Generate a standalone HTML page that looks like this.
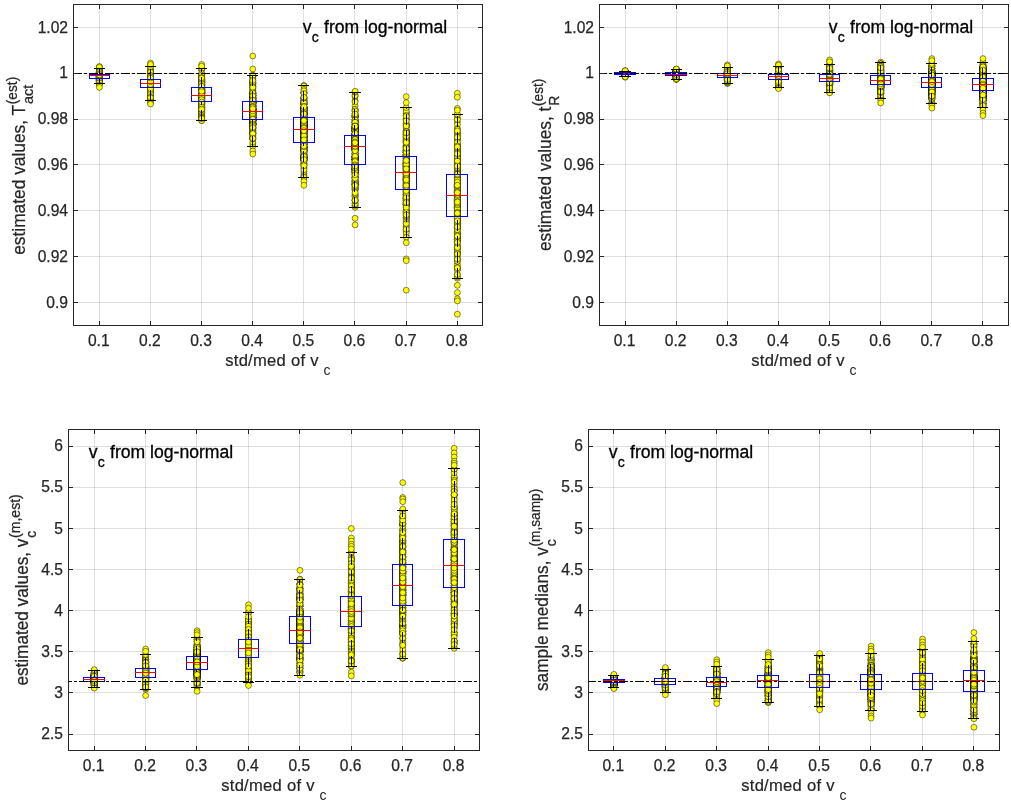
<!DOCTYPE html>
<html><head><meta charset="utf-8"><title>boxplots</title>
<style>html,body{margin:0;padding:0;background:#fff;overflow:hidden}svg{display:block}text{font-family:"Liberation Sans",Arial,Helvetica,sans-serif}.sc{fill:none;stroke:none;marker-start:url(#m);marker-mid:url(#m);marker-end:url(#m)}</style>
</head><body>
<svg width="1011" height="805" viewBox="0 0 1011 805">
<rect width="1011" height="805" fill="#fff"/>
<defs><marker id="m" markerUnits="userSpaceOnUse" markerWidth="8" markerHeight="8" refX="4" refY="4" viewBox="0 0 8 8" overflow="visible"><circle cx="4" cy="4" r="2.95" fill="#ffff00" stroke="#000" stroke-opacity="0.8" stroke-width="0.6"/></marker></defs>
<g id="panel1">
<g stroke="#262626" stroke-opacity="0.15" stroke-width="1" fill="none" shape-rendering="crispEdges"><path d="M99.5 4.5V325.5M150.5 4.5V325.5M201.5 4.5V325.5M252.5 4.5V325.5M303.5 4.5V325.5M354.5 4.5V325.5M406.5 4.5V325.5M457.5 4.5V325.5"/><path d="M73.5 302.5H482.5M73.5 256.5H482.5M73.5 210.5H482.5M73.5 164.5H482.5M73.5 119.5H482.5M73.5 73.5H482.5M73.5 27.5H482.5"/></g>
<polyline class="sc" transform="translate(99.39 0)" points="0,72.3 0,80.2 0,77.3 0,77.0 0,73.5 0,79.4 0,74.9 0,73.9 0,73.0 0,74.8 0,77.4 0,73.9 0,74.3 0,72.6 0,79.1 0,81.8 0,78.0 0,80.0 0,75.1 0,80.5 0,80.1 0,79.1 0,74.8 0,73.0 0,75.9 0,73.9 0,76.4 0,77.5 0,82.3 0,76.4 0,73.5 0,75.0 0,82.1 0,81.2 0,80.8 0,75.2 0,74.0 0,75.9 0,70.3 0,76.3 0,75.3 0,81.1 0,81.8 0,76.1 0,77.6 0,80.5 0,79.7 0,78.8 0,75.3 0,79.6 0,79.0 0,81.8 0,77.7 0,76.0 0,74.3 0,77.7 0,77.6 0,78.3 0,74.3 0,76.1 0,79.6 0,82.2 0,74.3 0,73.8 0,74.4 0,82.0 0,79.2 0,71.6 0,72.1 0,79.2 0,74.7 0,72.3 0,74.5 0,72.7 0,74.4 0,77.1 0,73.6 0,79.1 0,74.8 0,73.3 0,75.5 0,76.0 0,75.0 0,78.2 0,75.1 0,77.9 0,78.2 0,81.4 0,74.1 0,75.3 0,71.1 0,72.9 0,78.1 0,80.4 0,82.2 0,74.6 0,73.0 0,75.7 0,73.3 0,82.0 0,72.2 0,76.2 0,71.3 0,79.5 0,75.2 0,72.6 0,71.8 0,76.8 0,73.0 0,77.9 0,75.8 0,80.1 0,74.4 0,73.5 0,74.3 0,75.8 0,79.2 0,74.9 0,72.9 0,75.0 0,73.7 0,74.5 0,73.8 0,82.1 0,74.6 0,73.7 0,72.5 0,77.6 0,75.1 0,74.9 0,73.0 0,77.7 0,73.0 0,73.6 0,77.1 0,75.1 0,75.0 0,76.7 0,73.9 0,78.4 0,80.3 0,80.2 0,72.4 0,81.4 0,74.9 0,76.8 0,75.1 0,74.7 0,76.6 0,75.4 0,76.6 0,82.6 0,81.3 0,72.2 0,74.6 0,72.2 0,77.3 0,82.7 0,76.9 0,73.8 0,78.7 0,78.3 0,74.8 0,77.0 0,75.2 0,74.2 0,75.2 0,76.6 0,74.3 0,80.1 0,76.6 0,76.8 0,78.2 0,74.3 0,81.1 0,75.2 0,83.4 0,75.2 0,74.3 0,74.0 0,78.5 0,74.4 0,76.4 0,73.3 0,77.2 0,75.3 0,78.1 0,78.7 0,75.5 0,79.0 0,75.2 0,79.8 0,72.1 0,79.8 0,73.5 0,79.5 0,82.6 0,74.6 0,74.5 0,68.4 0,75.1 0,81.2 0,74.5 0,81.3 0,82.1 0,76.4 0,71.4 0,78.9 0,78.9 0,74.4 0,81.9 0,80.3 0,82.7 0,75.0 0,71.1 0,74.6 0,72.7 0,80.9 0,73.4 0,73.3 0,78.5 0,73.5 0,72.7 0,77.7 0,74.1 0,77.1 0,76.2 0,72.9 0,73.9 0,75.1 0,79.7 0,79.5 0,75.9 0,75.9 0,72.4 0,75.1 0,77.8 0,81.9 0,79.1 0,80.8 0,73.6 0,77.9 0,77.8 0,74.9 0,74.9 0,75.8 0,76.9 0,75.3 0,73.9 0,74.7 0,75.0 0,78.2 0,77.1 0,73.2 0,80.1 0,79.2 0,79.3 0,80.0 0,73.3 0,79.4 0,75.0 0,72.7 0,76.0 0,77.2 0,75.1 0,73.7 0,77.7 0,79.9 0,71.7 0,74.6 0,80.6 0,75.2 0,79.9 0,78.3 0,74.7 0,74.3 0,78.8 0,76.4 0,78.4 0,74.1 0,72.9 0,76.7 0,75.0 0,79.4 0,74.4 0,78.6 0,78.4 0,74.8 0,76.8 0,78.1 0,74.0 0,74.8 0,74.6 0,74.0 0,75.3 0,73.9 0,80.4 0,74.6 0,76.4 0,73.7 0,74.3 0,83.2 0,77.1 0,73.0 0,74.8 0,76.4 0,76.8 0,79.9 0,74.1 0,76.9 0,82.5 0,77.9 0,82.2 0,73.8 0,74.7 0,72.2 0,73.9 0,75.3 0,77.9 0,76.4 0,75.2 0,74.8 0,66.5 0,67.2 0,85.0 0,87.4"/>
<polyline class="sc" transform="translate(150.53 0)" points="0,93.5 0,82.7 0,89.0 0,73.0 0,78.9 0,88.2 0,81.2 0,87.5 0,76.6 0,86.3 0,81.5 0,80.8 0,80.2 0,72.3 0,83.4 0,88.0 0,89.8 0,82.6 0,85.3 0,89.0 0,92.2 0,81.8 0,79.1 0,82.0 0,86.6 0,74.9 0,81.1 0,85.6 0,90.9 0,79.5 0,100.4 0,74.5 0,78.2 0,72.9 0,81.1 0,82.5 0,84.6 0,87.4 0,85.7 0,88.3 0,92.9 0,83.2 0,86.1 0,88.1 0,79.4 0,76.9 0,83.3 0,82.4 0,77.3 0,83.9 0,81.2 0,87.3 0,82.8 0,80.1 0,83.3 0,94.3 0,91.6 0,78.2 0,80.3 0,75.8 0,90.3 0,78.2 0,71.9 0,79.3 0,88.6 0,86.4 0,82.9 0,84.3 0,83.5 0,88.5 0,86.9 0,71.7 0,88.3 0,88.6 0,90.0 0,94.9 0,84.9 0,86.7 0,79.4 0,79.3 0,88.9 0,91.9 0,77.2 0,83.6 0,86.0 0,88.7 0,82.4 0,79.4 0,70.8 0,87.1 0,93.0 0,91.3 0,73.8 0,83.2 0,83.1 0,83.2 0,78.8 0,88.7 0,88.9 0,88.0 0,81.8 0,79.2 0,82.5 0,82.5 0,82.7 0,80.0 0,81.8 0,82.7 0,76.9 0,81.9 0,84.0 0,86.1 0,82.1 0,80.4 0,86.6 0,74.5 0,70.9 0,82.7 0,100.4 0,88.2 0,83.5 0,85.4 0,82.8 0,85.0 0,79.4 0,83.5 0,86.5 0,87.3 0,83.2 0,84.9 0,87.9 0,79.6 0,85.3 0,74.1 0,86.5 0,76.1 0,86.2 0,83.2 0,81.3 0,85.4 0,90.7 0,80.3 0,86.4 0,85.6 0,82.5 0,68.7 0,81.2 0,85.3 0,85.9 0,81.3 0,87.5 0,87.3 0,88.1 0,84.7 0,75.0 0,97.9 0,93.0 0,77.3 0,79.3 0,92.2 0,84.9 0,83.7 0,85.2 0,80.3 0,74.2 0,81.9 0,88.0 0,83.0 0,89.1 0,91.7 0,92.7 0,79.2 0,99.4 0,74.5 0,72.6 0,83.1 0,90.5 0,80.1 0,84.7 0,80.7 0,84.4 0,76.1 0,79.7 0,85.6 0,79.5 0,92.6 0,88.0 0,85.9 0,81.5 0,98.5 0,86.6 0,81.0 0,98.9 0,76.2 0,77.2 0,90.9 0,82.9 0,86.6 0,82.2 0,93.6 0,89.3 0,86.2 0,93.9 0,83.4 0,86.2 0,81.2 0,79.6 0,66.3 0,85.3 0,80.9 0,77.4 0,83.8 0,85.2 0,86.1 0,84.6 0,96.8 0,80.3 0,81.0 0,83.3 0,86.3 0,97.0 0,87.2 0,94.7 0,74.1 0,84.5 0,91.5 0,83.6 0,75.6 0,79.5 0,80.0 0,86.2 0,89.3 0,70.7 0,89.0 0,78.6 0,93.5 0,76.6 0,80.9 0,88.8 0,79.2 0,85.0 0,72.3 0,84.1 0,96.3 0,83.6 0,87.2 0,80.6 0,82.0 0,73.0 0,92.5 0,77.8 0,83.0 0,74.2 0,76.2 0,83.4 0,86.7 0,82.6 0,74.2 0,81.0 0,85.2 0,76.5 0,83.1 0,86.9 0,85.5 0,74.9 0,89.6 0,83.9 0,83.0 0,79.5 0,85.2 0,75.3 0,83.4 0,77.7 0,85.6 0,80.5 0,77.0 0,89.7 0,92.8 0,86.0 0,96.5 0,82.8 0,83.3 0,71.6 0,86.4 0,96.2 0,91.6 0,86.2 0,93.8 0,78.7 0,90.3 0,87.9 0,81.1 0,77.1 0,87.8 0,82.1 0,66.8 0,72.2 0,87.5 0,84.3 0,87.9 0,88.3 0,93.7 0,83.6 0,93.2 0,77.3 0,83.8 0,97.3 0,84.6 0,81.2 0,78.4 0,75.3 0,83.5 0,83.5 0,83.2 0,97.8 0,79.8 0,85.5 0,76.7 0,84.6 0,85.3 0,79.2 0,86.1 0,80.1 0,90.6 0,88.8 0,84.4 0,81.7 0,78.0 0,63.0 0,64.5 0,102.5 0,104.0"/>
<polyline class="sc" transform="translate(201.67 0)" points="0,98.4 0,89.2 0,101.1 0,80.7 0,88.4 0,89.3 0,81.5 0,85.7 0,81.4 0,90.3 0,104.8 0,82.4 0,116.5 0,89.5 0,90.6 0,97.9 0,101.5 0,93.3 0,101.5 0,85.2 0,74.3 0,105.3 0,103.8 0,101.0 0,79.4 0,104.9 0,82.7 0,100.8 0,97.2 0,81.9 0,93.0 0,83.0 0,85.3 0,97.5 0,97.2 0,92.6 0,92.9 0,91.4 0,69.4 0,92.4 0,82.1 0,103.3 0,82.4 0,78.4 0,94.9 0,81.6 0,87.2 0,102.2 0,89.4 0,92.1 0,70.2 0,68.4 0,98.0 0,104.5 0,95.1 0,83.0 0,88.2 0,105.9 0,97.4 0,113.9 0,95.6 0,80.9 0,115.3 0,75.8 0,90.2 0,98.6 0,108.7 0,87.5 0,92.5 0,107.3 0,96.0 0,101.2 0,108.0 0,82.9 0,91.7 0,91.4 0,90.3 0,98.0 0,100.2 0,88.6 0,93.9 0,78.9 0,100.0 0,101.4 0,93.2 0,78.5 0,105.4 0,96.3 0,109.4 0,98.3 0,84.6 0,101.8 0,92.7 0,96.0 0,110.8 0,92.2 0,87.7 0,84.4 0,80.2 0,92.3 0,91.4 0,100.8 0,106.2 0,108.3 0,94.8 0,91.2 0,110.0 0,101.6 0,92.1 0,92.8 0,88.8 0,94.9 0,90.5 0,93.2 0,87.4 0,107.1 0,100.1 0,110.2 0,91.9 0,108.5 0,95.0 0,99.6 0,95.0 0,94.3 0,90.6 0,110.0 0,75.3 0,79.0 0,114.7 0,86.3 0,85.6 0,96.4 0,116.8 0,102.2 0,89.9 0,100.5 0,80.5 0,99.7 0,82.5 0,97.0 0,88.8 0,102.2 0,118.5 0,103.9 0,89.2 0,95.7 0,98.7 0,101.3 0,93.2 0,112.6 0,90.0 0,89.5 0,117.9 0,110.7 0,84.1 0,84.5 0,84.5 0,86.2 0,104.8 0,103.8 0,104.4 0,88.4 0,101.7 0,83.1 0,109.7 0,97.6 0,89.2 0,111.4 0,93.0 0,74.8 0,88.4 0,87.7 0,98.6 0,99.0 0,89.2 0,97.1 0,101.7 0,95.5 0,96.6 0,82.8 0,117.0 0,82.9 0,112.2 0,97.1 0,103.4 0,92.6 0,113.3 0,102.4 0,103.3 0,93.5 0,98.4 0,97.3 0,94.5 0,95.4 0,74.7 0,90.7 0,102.3 0,92.5 0,116.4 0,83.0 0,82.1 0,90.0 0,79.3 0,93.2 0,102.1 0,78.3 0,93.5 0,100.0 0,92.9 0,105.2 0,75.6 0,120.5 0,102.0 0,86.7 0,93.5 0,85.2 0,87.8 0,80.6 0,90.3 0,91.6 0,120.6 0,88.1 0,83.5 0,95.6 0,90.6 0,91.2 0,99.0 0,96.0 0,80.0 0,84.4 0,106.8 0,109.9 0,87.9 0,99.8 0,79.5 0,85.4 0,108.1 0,100.5 0,83.9 0,92.9 0,108.2 0,107.4 0,82.3 0,82.4 0,94.7 0,83.0 0,101.9 0,103.0 0,107.3 0,103.9 0,109.4 0,102.4 0,100.9 0,96.7 0,112.5 0,118.3 0,91.8 0,102.1 0,93.4 0,88.3 0,92.3 0,92.1 0,85.4 0,80.6 0,94.3 0,86.2 0,91.7 0,91.8 0,101.2 0,100.3 0,86.0 0,110.5 0,92.6 0,103.0 0,73.5 0,107.6 0,75.2 0,84.5 0,105.7 0,79.0 0,93.0 0,106.6 0,87.6 0,95.2 0,78.1 0,102.2 0,101.4 0,107.5 0,91.5 0,96.2 0,102.3 0,112.4 0,93.5 0,101.4 0,84.0 0,84.4 0,77.5 0,84.7 0,86.3 0,118.4 0,103.3 0,94.7 0,91.6 0,111.4 0,106.5 0,96.5 0,101.1 0,109.7 0,80.5 0,97.0 0,95.3 0,78.1 0,92.3 0,81.2 0,97.1 0,92.8 0,83.4 0,109.3 0,100.7 0,79.4 0,92.6 0,78.0 0,87.9 0,90.7 0,99.8 0,98.5 0,95.5 0,99.6 0,91.2 0,86.2 0,104.0 0,102.1 0,64.5 0,66.2"/>
<polyline class="sc" transform="translate(252.81 0)" points="0,115.7 0,107.4 0,84.9 0,118.1 0,121.5 0,121.9 0,110.0 0,109.2 0,104.1 0,112.0 0,119.5 0,111.2 0,112.1 0,120.2 0,112.3 0,105.8 0,122.5 0,100.8 0,93.0 0,76.2 0,127.2 0,126.3 0,113.7 0,109.4 0,132.3 0,76.1 0,130.0 0,100.7 0,112.3 0,111.1 0,111.9 0,92.7 0,133.3 0,102.6 0,112.4 0,102.3 0,93.0 0,96.5 0,123.9 0,102.1 0,110.3 0,117.3 0,112.3 0,127.1 0,137.6 0,102.9 0,120.5 0,112.0 0,104.0 0,117.1 0,97.9 0,115.9 0,119.5 0,125.2 0,118.3 0,100.7 0,102.4 0,110.9 0,95.1 0,119.3 0,99.9 0,76.5 0,133.4 0,83.2 0,124.6 0,124.7 0,86.7 0,103.5 0,120.8 0,78.4 0,123.5 0,121.2 0,99.0 0,116.7 0,105.4 0,122.6 0,126.9 0,109.2 0,127.7 0,88.0 0,111.5 0,116.7 0,109.6 0,130.6 0,132.7 0,124.3 0,96.1 0,86.2 0,114.8 0,93.9 0,84.6 0,108.3 0,111.0 0,116.7 0,103.5 0,109.9 0,96.0 0,104.6 0,122.9 0,98.5 0,102.9 0,106.2 0,122.2 0,119.8 0,123.7 0,113.7 0,95.1 0,128.3 0,111.3 0,132.2 0,94.3 0,113.7 0,97.9 0,115.6 0,123.2 0,111.5 0,104.7 0,112.1 0,114.3 0,117.9 0,90.1 0,118.7 0,108.4 0,114.7 0,124.8 0,130.8 0,119.5 0,113.8 0,117.6 0,104.0 0,125.0 0,117.4 0,117.2 0,136.5 0,110.9 0,83.9 0,79.9 0,124.9 0,105.9 0,102.9 0,108.7 0,86.3 0,115.0 0,118.6 0,76.0 0,102.2 0,101.8 0,113.7 0,107.6 0,139.2 0,88.4 0,117.4 0,115.9 0,95.9 0,125.9 0,110.5 0,98.8 0,117.9 0,120.5 0,102.0 0,120.7 0,90.1 0,146.3 0,103.1 0,97.6 0,75.1 0,83.0 0,115.4 0,144.0 0,101.7 0,128.5 0,131.4 0,101.7 0,106.6 0,123.2 0,95.5 0,118.0 0,124.8 0,99.0 0,117.5 0,119.8 0,106.3 0,82.3 0,120.3 0,106.5 0,113.2 0,82.9 0,109.0 0,110.7 0,102.4 0,134.0 0,96.1 0,105.8 0,109.9 0,113.7 0,115.1 0,117.2 0,124.4 0,100.1 0,116.6 0,95.9 0,117.6 0,118.9 0,119.1 0,105.4 0,81.0 0,110.5 0,110.3 0,112.0 0,120.2 0,131.8 0,92.8 0,133.5 0,120.7 0,105.6 0,109.5 0,113.3 0,111.0 0,100.6 0,80.1 0,93.7 0,120.3 0,128.2 0,120.3 0,98.4 0,101.5 0,119.4 0,113.0 0,93.9 0,104.0 0,120.1 0,109.4 0,112.7 0,95.4 0,119.7 0,138.2 0,124.3 0,134.0 0,127.6 0,109.7 0,102.2 0,106.5 0,123.1 0,112.8 0,107.1 0,107.8 0,99.4 0,108.7 0,91.7 0,125.3 0,93.7 0,102.4 0,135.3 0,109.3 0,99.0 0,99.2 0,120.6 0,123.0 0,119.3 0,116.5 0,114.6 0,142.1 0,135.0 0,97.7 0,93.4 0,108.5 0,119.3 0,97.4 0,108.3 0,75.8 0,118.6 0,138.9 0,116.4 0,95.2 0,102.2 0,113.2 0,114.3 0,113.9 0,111.8 0,124.0 0,124.5 0,82.3 0,111.9 0,115.9 0,115.2 0,113.1 0,124.4 0,123.1 0,103.0 0,109.6 0,123.2 0,100.0 0,103.1 0,101.2 0,128.8 0,114.7 0,103.2 0,106.4 0,108.8 0,87.5 0,93.0 0,113.3 0,138.7 0,120.8 0,133.6 0,116.2 0,114.7 0,98.3 0,117.7 0,98.8 0,93.0 0,108.4 0,119.8 0,109.8 0,138.4 0,98.2 0,124.5 0,80.5 0,116.2 0,125.1 0,102.9 0,127.5 0,106.4 0,107.2 0,111.3 0,120.5 0,111.1 0,113.6 0,95.8 0,118.7 0,115.4 0,113.5 0,111.0 0,119.2 0,100.3 0,108.8 0,56.0 0,69.0 0,151.0 0,154.0"/>
<polyline class="sc" transform="translate(303.95 0)" points="0,100.7 0,133.2 0,136.2 0,157.1 0,147.9 0,156.4 0,113.2 0,130.9 0,173.6 0,127.2 0,140.3 0,125.1 0,141.5 0,119.9 0,159.7 0,133.1 0,157.9 0,134.2 0,111.2 0,122.5 0,140.5 0,163.7 0,109.9 0,163.8 0,108.4 0,113.0 0,130.8 0,85.4 0,112.2 0,125.1 0,120.2 0,144.3 0,157.0 0,128.1 0,115.4 0,140.1 0,113.1 0,116.2 0,143.3 0,108.4 0,119.2 0,125.6 0,142.4 0,101.9 0,125.3 0,142.2 0,147.7 0,121.6 0,102.9 0,144.4 0,132.4 0,108.0 0,116.7 0,127.7 0,144.4 0,130.0 0,129.2 0,86.1 0,114.3 0,138.2 0,100.2 0,131.2 0,140.9 0,152.6 0,129.6 0,147.2 0,93.1 0,122.3 0,132.8 0,117.1 0,143.3 0,149.9 0,155.0 0,143.8 0,97.9 0,120.1 0,150.1 0,124.2 0,103.6 0,126.2 0,127.7 0,156.9 0,116.7 0,140.2 0,119.3 0,154.2 0,141.1 0,145.3 0,150.9 0,126.0 0,112.9 0,118.8 0,102.2 0,108.4 0,102.2 0,136.8 0,114.6 0,130.4 0,165.9 0,120.5 0,149.2 0,121.7 0,125.4 0,152.1 0,123.4 0,140.6 0,160.5 0,137.3 0,139.9 0,153.6 0,151.1 0,113.3 0,139.2 0,89.3 0,151.6 0,107.6 0,133.1 0,157.8 0,130.9 0,130.9 0,107.1 0,110.7 0,146.5 0,108.9 0,103.8 0,124.6 0,137.4 0,157.1 0,132.8 0,119.8 0,119.8 0,124.5 0,108.2 0,162.8 0,150.4 0,121.7 0,148.2 0,104.1 0,109.8 0,114.9 0,136.7 0,134.9 0,126.4 0,125.5 0,110.6 0,116.3 0,142.5 0,133.3 0,139.9 0,126.7 0,130.9 0,122.3 0,124.1 0,116.3 0,111.6 0,119.1 0,98.8 0,113.2 0,122.1 0,127.2 0,108.2 0,123.4 0,121.7 0,147.2 0,103.9 0,137.1 0,117.7 0,126.3 0,134.9 0,92.5 0,117.3 0,123.9 0,122.6 0,123.7 0,129.9 0,154.4 0,148.9 0,141.8 0,176.8 0,160.5 0,146.8 0,129.5 0,114.4 0,121.6 0,167.6 0,96.4 0,120.9 0,129.6 0,119.6 0,159.2 0,113.1 0,135.0 0,160.0 0,127.3 0,92.9 0,137.5 0,140.6 0,126.6 0,108.0 0,125.2 0,117.2 0,109.6 0,126.9 0,125.0 0,175.4 0,110.6 0,144.8 0,136.2 0,168.8 0,148.5 0,127.2 0,128.4 0,144.0 0,136.5 0,177.4 0,121.6 0,158.9 0,157.5 0,111.4 0,114.6 0,114.6 0,121.4 0,106.9 0,128.7 0,158.9 0,121.8 0,164.5 0,155.9 0,146.8 0,98.9 0,100.7 0,156.0 0,118.1 0,123.6 0,114.2 0,110.3 0,104.2 0,117.8 0,127.3 0,106.6 0,171.5 0,135.8 0,118.0 0,133.9 0,113.2 0,150.0 0,148.6 0,125.5 0,137.8 0,109.8 0,138.3 0,135.4 0,100.5 0,124.3 0,133.8 0,131.3 0,122.1 0,119.9 0,155.3 0,104.2 0,126.0 0,141.9 0,150.6 0,92.3 0,143.2 0,158.3 0,112.2 0,150.2 0,129.5 0,140.0 0,90.8 0,147.6 0,118.0 0,104.4 0,126.5 0,147.3 0,136.5 0,124.1 0,133.0 0,155.3 0,152.2 0,115.3 0,169.7 0,156.5 0,150.4 0,136.1 0,123.9 0,98.0 0,129.3 0,125.6 0,130.3 0,117.7 0,132.5 0,158.1 0,128.7 0,124.7 0,126.2 0,112.3 0,109.7 0,123.3 0,124.9 0,132.2 0,107.3 0,122.3 0,93.5 0,102.4 0,138.6 0,135.2 0,131.0 0,146.7 0,145.2 0,144.1 0,127.5 0,123.7 0,159.6 0,106.3 0,125.5 0,159.6 0,117.0 0,120.6 0,109.1 0,97.9 0,161.5 0,138.3 0,135.8 0,113.6 0,129.1 0,156.5 0,146.0 0,130.1 0,113.9 0,159.6 0,127.9 0,139.9 0,97.3 0,127.6 0,177.3 0,128.1 0,165.7 0,106.8 0,130.7 0,181.5 0,185.3"/>
<polyline class="sc" transform="translate(355.09 0)" points="0,116.2 0,134.8 0,159.5 0,159.0 0,145.2 0,116.9 0,145.5 0,157.3 0,177.1 0,168.9 0,148.6 0,137.9 0,105.9 0,146.6 0,130.3 0,143.6 0,130.0 0,177.6 0,170.5 0,150.8 0,159.1 0,127.6 0,136.4 0,142.3 0,150.2 0,130.9 0,135.2 0,196.7 0,172.0 0,134.2 0,146.0 0,164.3 0,143.5 0,165.0 0,135.7 0,179.0 0,159.4 0,151.7 0,195.6 0,165.6 0,184.6 0,164.4 0,169.7 0,165.3 0,148.6 0,128.5 0,165.8 0,161.9 0,194.8 0,137.7 0,176.7 0,130.4 0,162.7 0,133.1 0,140.4 0,164.9 0,132.8 0,140.7 0,131.1 0,156.1 0,177.6 0,120.5 0,94.8 0,136.2 0,145.7 0,139.6 0,141.6 0,150.0 0,127.8 0,138.4 0,142.9 0,157.1 0,134.6 0,146.2 0,137.9 0,110.8 0,128.5 0,141.5 0,158.9 0,156.2 0,131.3 0,188.4 0,141.1 0,149.2 0,196.7 0,136.6 0,115.2 0,193.8 0,205.6 0,148.0 0,135.0 0,133.8 0,147.7 0,157.9 0,96.7 0,148.4 0,127.6 0,133.4 0,158.6 0,143.3 0,116.5 0,126.7 0,146.2 0,137.4 0,157.6 0,128.7 0,135.6 0,135.8 0,121.1 0,126.7 0,128.0 0,100.8 0,128.6 0,165.1 0,145.1 0,140.9 0,143.0 0,135.8 0,160.0 0,166.0 0,200.2 0,163.4 0,145.6 0,131.0 0,144.8 0,115.5 0,140.8 0,157.2 0,200.3 0,117.4 0,137.2 0,184.3 0,144.4 0,169.8 0,144.2 0,170.0 0,168.5 0,128.6 0,166.2 0,145.2 0,149.1 0,162.9 0,187.4 0,137.8 0,133.8 0,167.7 0,182.1 0,159.6 0,183.3 0,109.5 0,182.2 0,145.7 0,172.0 0,167.0 0,121.7 0,167.1 0,115.8 0,129.6 0,135.4 0,148.3 0,122.5 0,134.5 0,156.7 0,141.5 0,168.4 0,149.9 0,154.0 0,185.3 0,183.5 0,174.2 0,138.0 0,109.3 0,156.5 0,123.8 0,147.8 0,139.4 0,147.8 0,146.2 0,153.9 0,172.7 0,147.9 0,125.7 0,138.6 0,117.5 0,122.0 0,138.2 0,95.6 0,147.8 0,190.6 0,136.8 0,189.4 0,167.5 0,148.6 0,114.0 0,175.5 0,127.9 0,165.1 0,168.9 0,157.2 0,180.1 0,141.9 0,165.5 0,165.6 0,129.5 0,147.8 0,124.4 0,177.7 0,130.5 0,136.7 0,152.9 0,203.2 0,172.6 0,165.3 0,168.5 0,199.0 0,130.7 0,138.0 0,145.9 0,141.6 0,189.8 0,145.8 0,136.1 0,129.8 0,137.2 0,159.5 0,165.6 0,180.7 0,168.6 0,113.3 0,124.5 0,129.0 0,207.3 0,153.8 0,156.8 0,136.4 0,181.6 0,134.7 0,139.1 0,170.2 0,170.7 0,122.8 0,138.9 0,144.8 0,187.0 0,154.4 0,171.8 0,205.6 0,146.2 0,169.5 0,188.5 0,164.6 0,160.1 0,124.6 0,203.8 0,181.5 0,173.2 0,158.8 0,146.9 0,144.4 0,155.8 0,174.5 0,201.1 0,131.8 0,148.6 0,149.4 0,149.9 0,149.3 0,119.8 0,153.6 0,146.5 0,126.7 0,186.8 0,169.2 0,128.6 0,131.8 0,139.0 0,169.5 0,111.2 0,130.2 0,184.1 0,92.2 0,150.6 0,101.9 0,184.7 0,180.6 0,166.7 0,115.6 0,127.0 0,143.9 0,159.6 0,161.2 0,126.7 0,135.2 0,164.5 0,172.5 0,139.3 0,119.7 0,142.5 0,144.2 0,145.6 0,136.4 0,146.3 0,147.6 0,141.1 0,182.8 0,156.3 0,160.6 0,140.4 0,150.8 0,178.3 0,119.9 0,122.2 0,122.3 0,139.9 0,142.9 0,171.7 0,133.7 0,146.4 0,164.2 0,143.0 0,192.6 0,168.5 0,171.6 0,137.2 0,184.6 0,111.0 0,161.6 0,164.8 0,167.8 0,125.9 0,146.2 0,141.4 0,200.3 0,139.8 0,126.8 0,133.6 0,185.4 0,126.7 0,139.1 0,133.4 0,126.1 0,142.9 0,114.0 0,139.6 0,141.9 0,142.8 0,166.0 0,174.7 0,91.3 0,218.3 0,224.9"/>
<polyline class="sc" transform="translate(406.23 0)" points="0,187.6 0,227.0 0,181.1 0,113.6 0,132.9 0,146.6 0,170.2 0,221.3 0,201.0 0,205.0 0,108.4 0,193.0 0,180.2 0,195.0 0,202.6 0,204.8 0,180.5 0,211.2 0,160.8 0,198.6 0,185.9 0,203.6 0,164.5 0,173.2 0,215.7 0,149.7 0,165.3 0,179.0 0,209.7 0,185.2 0,210.0 0,213.5 0,178.7 0,155.9 0,197.9 0,198.7 0,202.2 0,158.2 0,141.8 0,112.3 0,180.0 0,189.3 0,124.5 0,180.3 0,167.1 0,182.2 0,217.9 0,212.2 0,151.2 0,165.8 0,191.7 0,179.5 0,177.0 0,194.4 0,166.0 0,156.0 0,168.0 0,183.3 0,154.7 0,147.8 0,168.5 0,200.5 0,151.3 0,172.4 0,140.6 0,142.8 0,189.7 0,174.0 0,169.9 0,187.2 0,187.5 0,126.9 0,203.1 0,143.0 0,133.9 0,155.9 0,190.0 0,165.0 0,133.2 0,174.7 0,156.0 0,220.9 0,205.0 0,164.4 0,163.6 0,161.4 0,203.1 0,179.5 0,162.6 0,204.9 0,200.2 0,125.4 0,142.9 0,177.7 0,156.9 0,166.6 0,203.5 0,226.9 0,186.3 0,218.9 0,155.4 0,131.1 0,115.6 0,184.4 0,194.0 0,145.5 0,138.1 0,157.2 0,170.3 0,231.5 0,169.2 0,213.9 0,150.9 0,189.3 0,172.2 0,184.0 0,185.9 0,183.8 0,176.4 0,191.3 0,162.1 0,196.6 0,204.6 0,156.0 0,168.8 0,130.0 0,186.9 0,194.6 0,168.6 0,163.0 0,164.6 0,130.4 0,135.4 0,181.7 0,137.3 0,162.5 0,111.1 0,125.9 0,197.9 0,235.6 0,154.3 0,178.3 0,181.2 0,204.3 0,177.9 0,180.1 0,230.5 0,157.7 0,190.9 0,196.0 0,163.3 0,213.1 0,225.6 0,152.8 0,233.0 0,158.5 0,157.4 0,170.6 0,200.6 0,185.1 0,163.5 0,152.5 0,204.9 0,132.8 0,173.0 0,169.8 0,207.6 0,137.5 0,190.2 0,141.8 0,155.4 0,118.4 0,174.2 0,178.3 0,175.6 0,171.3 0,163.3 0,166.9 0,159.4 0,167.0 0,134.5 0,159.7 0,138.9 0,150.8 0,154.7 0,186.0 0,136.5 0,139.4 0,152.9 0,119.3 0,152.9 0,179.7 0,167.0 0,195.9 0,145.7 0,134.7 0,217.5 0,194.8 0,123.3 0,191.5 0,162.7 0,146.7 0,131.2 0,193.8 0,169.8 0,164.7 0,131.1 0,194.2 0,200.9 0,182.8 0,150.3 0,202.1 0,174.8 0,149.2 0,196.7 0,151.1 0,165.2 0,133.3 0,167.4 0,139.8 0,151.8 0,151.1 0,127.3 0,167.1 0,155.0 0,206.6 0,223.3 0,184.5 0,123.6 0,140.4 0,204.0 0,141.4 0,176.4 0,141.1 0,192.6 0,166.0 0,198.4 0,197.6 0,140.0 0,166.2 0,211.6 0,198.5 0,166.9 0,152.1 0,168.4 0,152.2 0,152.3 0,143.1 0,183.5 0,191.9 0,146.1 0,204.6 0,176.8 0,194.8 0,186.9 0,115.5 0,119.1 0,223.5 0,182.1 0,194.1 0,159.0 0,185.6 0,176.1 0,148.4 0,144.3 0,150.0 0,125.9 0,165.8 0,170.6 0,171.3 0,175.0 0,210.3 0,163.5 0,146.6 0,207.8 0,195.8 0,158.8 0,188.0 0,167.3 0,149.3 0,173.2 0,154.6 0,192.3 0,212.7 0,177.7 0,173.2 0,160.7 0,187.5 0,219.2 0,171.0 0,178.6 0,150.9 0,197.8 0,189.7 0,178.2 0,150.4 0,154.8 0,131.6 0,187.6 0,116.2 0,140.1 0,136.0 0,237.3 0,217.4 0,155.5 0,198.5 0,179.6 0,173.6 0,201.0 0,147.6 0,160.4 0,135.0 0,163.7 0,188.5 0,149.9 0,174.6 0,157.3 0,185.6 0,161.4 0,195.0 0,229.3 0,165.5 0,175.7 0,172.8 0,148.1 0,173.6 0,155.3 0,147.8 0,162.5 0,152.7 0,107.6 0,216.1 0,199.8 0,136.4 0,132.9 0,142.3 0,120.9 0,164.4 0,154.2 0,199.7 0,152.2 0,197.6 0,168.9 0,214.8 0,202.5 0,178.6 0,180.0 0,160.1 0,190.7 0,160.5 0,148.3 0,96.6 0,102.6 0,242.7 0,258.9 0,260.7 0,290.2"/>
<polyline class="sc" transform="translate(457.37 0)" points="0,204.5 0,214.2 0,211.8 0,196.5 0,214.4 0,192.8 0,195.2 0,121.8 0,200.7 0,192.9 0,199.3 0,176.5 0,158.6 0,194.8 0,267.4 0,198.4 0,199.9 0,155.5 0,191.7 0,191.5 0,138.9 0,196.1 0,192.7 0,186.4 0,226.3 0,206.7 0,222.2 0,249.4 0,200.8 0,253.0 0,246.2 0,168.8 0,216.0 0,227.3 0,155.1 0,252.5 0,185.0 0,136.0 0,177.4 0,175.7 0,117.9 0,237.1 0,163.1 0,201.3 0,227.6 0,187.7 0,166.1 0,154.6 0,192.7 0,173.2 0,194.7 0,221.5 0,203.6 0,256.9 0,208.7 0,197.1 0,208.6 0,143.5 0,199.1 0,182.0 0,180.5 0,238.4 0,133.3 0,201.5 0,228.6 0,266.7 0,161.9 0,246.9 0,223.0 0,175.6 0,166.1 0,205.2 0,218.2 0,169.1 0,216.9 0,188.6 0,179.1 0,166.3 0,167.3 0,150.9 0,223.0 0,156.9 0,221.2 0,206.7 0,149.6 0,154.2 0,172.5 0,227.7 0,274.3 0,208.2 0,202.2 0,195.5 0,191.5 0,124.6 0,186.4 0,164.9 0,206.4 0,150.0 0,222.0 0,204.4 0,239.6 0,128.6 0,188.5 0,207.6 0,181.8 0,264.4 0,261.6 0,207.5 0,166.0 0,253.9 0,198.5 0,165.5 0,222.1 0,246.8 0,195.9 0,186.6 0,249.2 0,133.6 0,196.4 0,239.5 0,190.7 0,173.5 0,200.4 0,176.3 0,223.0 0,150.0 0,237.7 0,278.2 0,199.7 0,186.6 0,218.1 0,163.6 0,184.2 0,239.6 0,222.9 0,161.9 0,151.8 0,201.4 0,193.4 0,235.8 0,119.5 0,209.2 0,150.8 0,158.3 0,233.3 0,200.6 0,198.9 0,193.7 0,206.3 0,202.5 0,209.0 0,162.0 0,228.2 0,184.4 0,231.2 0,190.2 0,182.5 0,189.9 0,236.1 0,202.0 0,237.0 0,162.7 0,193.8 0,220.7 0,173.9 0,181.2 0,183.6 0,227.5 0,173.1 0,245.2 0,214.5 0,186.7 0,187.3 0,202.6 0,207.1 0,178.5 0,171.0 0,186.4 0,239.4 0,227.9 0,242.3 0,139.5 0,139.9 0,168.7 0,151.5 0,236.9 0,254.4 0,155.9 0,185.4 0,149.4 0,237.6 0,177.4 0,153.8 0,199.2 0,165.6 0,227.8 0,145.6 0,169.1 0,185.3 0,178.1 0,204.6 0,206.1 0,210.8 0,215.6 0,206.5 0,181.9 0,276.9 0,164.4 0,227.4 0,169.8 0,156.3 0,210.4 0,195.0 0,203.4 0,176.6 0,213.0 0,217.7 0,196.0 0,233.8 0,258.9 0,192.3 0,175.9 0,185.1 0,129.2 0,199.8 0,241.8 0,251.4 0,184.7 0,236.0 0,188.1 0,145.5 0,206.6 0,171.3 0,261.2 0,173.1 0,202.1 0,202.3 0,173.2 0,241.4 0,222.5 0,216.1 0,204.7 0,239.7 0,200.4 0,135.6 0,253.5 0,160.9 0,215.6 0,223.8 0,198.3 0,207.6 0,162.6 0,190.5 0,202.2 0,189.7 0,238.7 0,175.2 0,161.9 0,203.1 0,179.5 0,254.0 0,160.0 0,171.8 0,208.9 0,161.9 0,171.7 0,218.6 0,215.2 0,131.8 0,146.4 0,208.3 0,233.5 0,207.5 0,269.2 0,114.7 0,147.1 0,199.4 0,187.6 0,157.7 0,270.0 0,172.7 0,214.0 0,212.5 0,201.5 0,233.6 0,227.0 0,238.9 0,205.1 0,184.2 0,220.8 0,185.9 0,210.6 0,185.7 0,168.7 0,159.7 0,214.7 0,189.9 0,183.5 0,151.7 0,167.8 0,130.9 0,247.5 0,162.5 0,229.2 0,169.7 0,158.2 0,192.2 0,188.4 0,208.6 0,160.9 0,137.3 0,204.5 0,239.8 0,236.5 0,142.5 0,114.2 0,185.0 0,169.0 0,166.1 0,165.9 0,267.9 0,222.2 0,208.7 0,168.9 0,212.3 0,194.4 0,148.4 0,184.2 0,185.9 0,222.5 0,259.1 0,204.8 0,229.7 0,191.8 0,235.2 0,213.9 0,213.5 0,218.0 0,217.3 0,236.2 0,222.3 0,167.8 0,192.7 0,274.5 0,224.8 0,160.9 0,146.1 0,174.9 0,174.1 0,182.1 0,203.2 0,220.8 0,202.0 0,166.1 0,213.2 0,185.2 0,147.0 0,242.3 0,153.7 0,226.9 0,93.3 0,97.2 0,108.4 0,110.2 0,285.3 0,292.6 0,298.8 0,300.9 0,314.2"/>
<g shape-rendering="crispEdges" fill="none" stroke-width="1">
<path d="M99.5 74.5V68.5M99.5 83.5V78.5" stroke="#000" stroke-dasharray="10.4 5.6"/>
<path d="M94 68.5H105M94 83.5H105" stroke="#000"/>
<rect x="89.5" y="74.5" width="20" height="4" stroke="#0000ff"/>
<path d="M89 75.5H110" stroke="#ff0000"/>
</g>
<g shape-rendering="crispEdges" fill="none" stroke-width="1">
<path d="M150.5 79.5V66.5M150.5 100.5V87.5" stroke="#000" stroke-dasharray="10.4 5.6"/>
<path d="M145 66.5H156M145 100.5H156" stroke="#000"/>
<rect x="140.5" y="79.5" width="20" height="8" stroke="#0000ff"/>
<path d="M140 83.5H161" stroke="#ff0000"/>
</g>
<g shape-rendering="crispEdges" fill="none" stroke-width="1">
<path d="M201.5 87.5V68.5M201.5 120.5V101.5" stroke="#000" stroke-dasharray="10.4 5.6"/>
<path d="M196 68.5H207M196 120.5H207" stroke="#000"/>
<rect x="191.5" y="87.5" width="20" height="14" stroke="#0000ff"/>
<path d="M191 95.5H212" stroke="#ff0000"/>
</g>
<g shape-rendering="crispEdges" fill="none" stroke-width="1">
<path d="M252.5 101.5V75.5M252.5 146.5V119.5" stroke="#000" stroke-dasharray="10.4 5.6"/>
<path d="M247 75.5H258M247 146.5H258" stroke="#000"/>
<rect x="242.5" y="101.5" width="20" height="18" stroke="#0000ff"/>
<path d="M242 111.5H263" stroke="#ff0000"/>
</g>
<g shape-rendering="crispEdges" fill="none" stroke-width="1">
<path d="M303.5 117.5V85.5M303.5 177.5V142.5" stroke="#000" stroke-dasharray="10.4 5.6"/>
<path d="M298 85.5H309M298 177.5H309" stroke="#000"/>
<rect x="293.5" y="117.5" width="21" height="25" stroke="#0000ff"/>
<path d="M293 129.5H315" stroke="#ff0000"/>
</g>
<g shape-rendering="crispEdges" fill="none" stroke-width="1">
<path d="M354.5 135.5V92.5M354.5 207.5V164.5" stroke="#000" stroke-dasharray="10.4 5.6"/>
<path d="M349 92.5H361M349 207.5H361" stroke="#000"/>
<rect x="344.5" y="135.5" width="21" height="29" stroke="#0000ff"/>
<path d="M344 146.5H366" stroke="#ff0000"/>
</g>
<g shape-rendering="crispEdges" fill="none" stroke-width="1">
<path d="M406.5 156.5V107.5M406.5 237.5V189.5" stroke="#000" stroke-dasharray="10.4 5.6"/>
<path d="M400 107.5H412M400 237.5H412" stroke="#000"/>
<rect x="395.5" y="156.5" width="21" height="33" stroke="#0000ff"/>
<path d="M395 172.5H417" stroke="#ff0000"/>
</g>
<g shape-rendering="crispEdges" fill="none" stroke-width="1">
<path d="M457.5 174.5V114.5M457.5 278.5V216.5" stroke="#000" stroke-dasharray="10.4 5.6"/>
<path d="M452 114.5H463M452 278.5H463" stroke="#000"/>
<rect x="446.5" y="174.5" width="21" height="42" stroke="#0000ff"/>
<path d="M446 195.5H468" stroke="#ff0000"/>
</g>
<path d="M73.5 73.5H482.5" stroke="#000" stroke-width="1" stroke-dasharray="9 2 3 2" stroke-dashoffset="0.5" fill="none" shape-rendering="crispEdges"/>
<path d="M99.5 326v-5M99.5 4v5M150.5 326v-5M150.5 4v5M201.5 326v-5M201.5 4v5M252.5 326v-5M252.5 4v5M303.5 326v-5M303.5 4v5M354.5 326v-5M354.5 4v5M406.5 326v-5M406.5 4v5M457.5 326v-5M457.5 4v5M73 302.5h5M483 302.5h-5M73 256.5h5M483 256.5h-5M73 210.5h5M483 210.5h-5M73 164.5h5M483 164.5h-5M73 119.5h5M483 119.5h-5M73 73.5h5M483 73.5h-5M73 27.5h5M483 27.5h-5" stroke="#262626" stroke-width="1" fill="none" shape-rendering="crispEdges"/>
<rect x="73.5" y="4.5" width="409" height="321" stroke="#262626" stroke-width="1" fill="none" shape-rendering="crispEdges"/>
<g font-size="15.6" fill="#262626" stroke="#262626" stroke-width="0.25">
<text x="98.74" y="345.7" text-anchor="middle">0.1</text>
<text x="149.88" y="345.7" text-anchor="middle">0.2</text>
<text x="201.02" y="345.7" text-anchor="middle">0.3</text>
<text x="252.16" y="345.7" text-anchor="middle">0.4</text>
<text x="303.3" y="345.7" text-anchor="middle">0.5</text>
<text x="354.44" y="345.7" text-anchor="middle">0.6</text>
<text x="405.58" y="345.7" text-anchor="middle">0.7</text>
<text x="456.72" y="345.7" text-anchor="middle">0.8</text>
<text x="68" y="307.67" text-anchor="end">0.9</text>
<text x="68" y="261.81" text-anchor="end">0.92</text>
<text x="68" y="215.96" text-anchor="end">0.94</text>
<text x="68" y="170.1" text-anchor="end">0.96</text>
<text x="68" y="124.24" text-anchor="end">0.98</text>
<text x="68" y="78.39" text-anchor="end">1</text>
<text x="68" y="32.53" text-anchor="end">1.02</text>
</g>
<text transform="translate(225.2 366.4) scale(1 0.98)" font-size="16.6" fill="#262626" stroke="#262626" stroke-width="0.2" textLength="93.3">std/med of v</text>
<text x="323.5" y="374.7" font-size="14" fill="#262626">c</text>
<g stroke="#000" stroke-width="0.3">
<text x="302.8" y="32.7" font-size="17.6" fill="#000">v</text>
<text x="311.7" y="41.6" font-size="14" fill="#000">c</text>
<text x="324" y="32.7" font-size="17.6" fill="#000" textLength="123.2">from log-normal</text>
</g>
<g transform="translate(24.8 254.8) rotate(-90)" fill="#262626" stroke="#262626" stroke-width="0.25">
<text x="0" y="0" font-size="19" textLength="150" lengthAdjust="spacingAndGlyphs">estimated values, T</text>
<text x="150.6" y="-7.6" font-size="15.2" textLength="27.4" lengthAdjust="spacingAndGlyphs">(est)</text>
<text x="150.8" y="7.9" font-size="15.2" textLength="19.2" lengthAdjust="spacingAndGlyphs">act</text>
</g>
</g>
<g id="panel2">
<g stroke="#262626" stroke-opacity="0.15" stroke-width="1" fill="none" shape-rendering="crispEdges"><path d="M625.5 4.5V325.5M676.5 4.5V325.5M727.5 4.5V325.5M778.5 4.5V325.5M829.5 4.5V325.5M880.5 4.5V325.5M931.5 4.5V325.5M982.5 4.5V325.5"/><path d="M599.5 302.5H1008.5M599.5 256.5H1008.5M599.5 210.5H1008.5M599.5 164.5H1008.5M599.5 119.5H1008.5M599.5 73.5H1008.5M599.5 27.5H1008.5"/></g>
<polyline class="sc" transform="translate(625.15 0)" points="0,74.4 0,74.0 0,74.8 0,72.8 0,74.2 0,72.6 0,74.6 0,74.3 0,72.4 0,74.0 0,73.8 0,73.5 0,74.8 0,74.3 0,73.8 0,72.3 0,73.3 0,73.3 0,74.2 0,74.5 0,74.8 0,75.6 0,75.2 0,74.8 0,75.6 0,72.4 0,72.0 0,74.3 0,72.1 0,74.4 0,73.0 0,73.9 0,76.1 0,75.5 0,73.1 0,74.1 0,74.3 0,73.1 0,73.7 0,73.5 0,73.1 0,72.7 0,74.1 0,73.8 0,73.3 0,71.9 0,73.9 0,72.9 0,72.7 0,74.3 0,75.2 0,73.8 0,71.9 0,73.1 0,73.0 0,74.5 0,74.2 0,74.0 0,74.5 0,72.2 0,75.3 0,75.6 0,73.3 0,72.3 0,72.1 0,75.6 0,72.6 0,73.4 0,74.2 0,73.1 0,72.6 0,73.3 0,74.5 0,72.0 0,74.0 0,74.9 0,74.0 0,71.7 0,73.9 0,72.9 0,74.4 0,72.3 0,72.2 0,72.4 0,72.3 0,73.3 0,73.2 0,74.9 0,73.3 0,72.5 0,73.4 0,73.0 0,75.3 0,71.7 0,73.0 0,72.8 0,71.4 0,73.8 0,74.2 0,75.5 0,73.6 0,74.3 0,75.5 0,73.4 0,73.9 0,75.0 0,72.1 0,71.6 0,72.1 0,72.1 0,74.2 0,72.1 0,74.9 0,74.9 0,74.2 0,72.3 0,74.8 0,72.4 0,74.6 0,75.8 0,72.1 0,75.0 0,73.1 0,71.8 0,75.6 0,71.5 0,73.2 0,76.0 0,74.0 0,72.0 0,73.8 0,73.7 0,75.5 0,72.9 0,72.5 0,73.4 0,73.6 0,75.7 0,73.7 0,73.0 0,73.5 0,72.6 0,76.0 0,74.8 0,74.3 0,73.3 0,74.9 0,72.0 0,72.4 0,73.0 0,75.2 0,74.8 0,72.5 0,72.4 0,72.4 0,74.0 0,72.3 0,73.4 0,74.0 0,73.5 0,72.7 0,73.1 0,74.0 0,74.1 0,72.4 0,74.8 0,73.9 0,73.4 0,75.5 0,72.0 0,72.8 0,72.5 0,74.1 0,74.3 0,74.4 0,74.9 0,73.2 0,71.3 0,75.2 0,73.9 0,71.5 0,74.3 0,74.0 0,73.9 0,72.3 0,73.2 0,71.5 0,73.7 0,73.1 0,72.6 0,71.9 0,73.7 0,73.9 0,75.9 0,73.2 0,71.4 0,72.2 0,73.5 0,73.0 0,72.4 0,72.7 0,73.1 0,74.6 0,73.5 0,75.2 0,71.8 0,72.3 0,74.3 0,72.3 0,73.5 0,74.5 0,73.5 0,73.2 0,71.6 0,73.5 0,74.1 0,74.0 0,72.4 0,73.2 0,75.2 0,75.5 0,72.4 0,72.8 0,72.6 0,72.1 0,73.8 0,74.5 0,72.5 0,75.1 0,73.6 0,74.6 0,71.4 0,74.3 0,76.0 0,72.7 0,75.5 0,73.1 0,73.8 0,74.0 0,71.9 0,72.7 0,73.9 0,73.3 0,71.9 0,72.0 0,75.0 0,71.9 0,72.3 0,73.2 0,74.3 0,74.9 0,73.6 0,73.8 0,72.6 0,74.7 0,74.2 0,75.0 0,73.2 0,73.4 0,75.2 0,74.8 0,74.3 0,76.1 0,71.8 0,74.3 0,73.0 0,73.6 0,73.9 0,74.0 0,75.3 0,72.8 0,71.6 0,72.4 0,72.3 0,71.7 0,72.0 0,75.8 0,74.1 0,71.7 0,75.3 0,74.0 0,71.6 0,73.7 0,75.1 0,74.0 0,73.4 0,72.1 0,72.1 0,74.5 0,76.0 0,73.9 0,74.2 0,73.2 0,71.7 0,73.2 0,71.9 0,75.4 0,73.1 0,73.0 0,73.0 0,73.3 0,75.2 0,75.9 0,74.2 0,74.0 0,71.6 0,74.4 0,74.8 0,72.6 0,72.3 0,71.8 0,71.7 0,75.3 0,75.4 0,74.2 0,73.0 0,73.1 0,73.7 0,73.6 0,72.8 0,70.7 0,71.0 0,71.4 0,70.8 0,76.5 0,76.9 0,77.2 0,76.7"/>
<polyline class="sc" transform="translate(676.27 0)" points="0,70.5 0,71.9 0,75.3 0,73.5 0,72.5 0,71.5 0,71.7 0,74.2 0,76.3 0,73.2 0,76.9 0,74.8 0,74.9 0,78.1 0,72.6 0,75.6 0,70.6 0,75.5 0,73.8 0,73.4 0,74.5 0,78.1 0,72.0 0,76.4 0,78.8 0,71.0 0,74.8 0,69.3 0,72.5 0,74.3 0,73.0 0,71.9 0,77.9 0,74.9 0,72.8 0,69.6 0,75.1 0,72.9 0,74.9 0,76.9 0,77.3 0,74.6 0,69.9 0,72.3 0,72.2 0,73.0 0,75.8 0,79.0 0,71.7 0,76.1 0,73.7 0,71.1 0,72.2 0,72.5 0,72.5 0,77.0 0,73.7 0,70.2 0,74.4 0,73.7 0,70.6 0,75.7 0,75.5 0,72.0 0,75.0 0,73.1 0,73.7 0,73.4 0,75.7 0,72.2 0,72.9 0,74.3 0,75.1 0,74.9 0,75.7 0,70.9 0,73.6 0,74.5 0,73.1 0,73.6 0,77.3 0,76.1 0,77.5 0,73.8 0,70.5 0,78.2 0,72.1 0,69.9 0,70.4 0,74.4 0,74.6 0,70.6 0,75.1 0,71.8 0,75.7 0,74.6 0,74.9 0,75.7 0,69.6 0,72.1 0,71.4 0,74.9 0,71.5 0,71.1 0,73.3 0,70.7 0,70.3 0,73.1 0,71.2 0,75.1 0,71.9 0,74.9 0,76.3 0,74.1 0,78.7 0,78.4 0,71.7 0,76.5 0,74.6 0,76.7 0,71.8 0,72.3 0,70.3 0,72.9 0,73.3 0,72.9 0,73.0 0,76.0 0,75.1 0,71.0 0,75.8 0,73.1 0,73.8 0,73.3 0,72.1 0,75.3 0,74.3 0,72.8 0,71.0 0,75.4 0,74.6 0,76.3 0,69.3 0,75.7 0,73.8 0,71.4 0,72.2 0,76.3 0,71.2 0,74.6 0,73.1 0,74.4 0,75.4 0,73.5 0,76.7 0,72.6 0,70.5 0,73.3 0,75.5 0,73.9 0,71.0 0,74.0 0,71.5 0,72.1 0,76.3 0,71.0 0,73.0 0,74.1 0,76.3 0,72.9 0,77.4 0,75.3 0,72.1 0,76.3 0,78.3 0,69.8 0,71.8 0,72.6 0,73.4 0,69.3 0,74.0 0,76.0 0,70.3 0,74.0 0,79.0 0,78.5 0,71.8 0,76.4 0,74.5 0,76.4 0,72.5 0,73.9 0,74.9 0,71.1 0,79.0 0,73.3 0,76.7 0,74.4 0,76.1 0,73.5 0,71.1 0,77.8 0,72.7 0,70.9 0,71.7 0,75.0 0,76.9 0,77.7 0,69.3 0,76.9 0,75.3 0,78.1 0,78.6 0,73.9 0,77.2 0,74.5 0,73.8 0,73.5 0,75.2 0,75.4 0,76.1 0,75.4 0,75.8 0,71.6 0,73.4 0,73.8 0,73.6 0,73.0 0,72.2 0,78.1 0,73.1 0,70.6 0,74.5 0,78.3 0,72.6 0,75.1 0,74.2 0,73.8 0,71.5 0,72.8 0,78.2 0,72.2 0,74.9 0,76.7 0,70.9 0,75.0 0,77.2 0,77.1 0,71.2 0,72.6 0,73.2 0,72.1 0,75.5 0,73.9 0,71.3 0,74.4 0,78.9 0,70.9 0,79.3 0,71.1 0,73.8 0,72.8 0,73.8 0,75.7 0,78.2 0,75.4 0,75.7 0,73.9 0,73.8 0,73.0 0,72.3 0,75.1 0,75.6 0,71.9 0,73.8 0,77.6 0,77.7 0,74.7 0,71.7 0,75.3 0,74.1 0,77.2 0,75.4 0,72.5 0,75.5 0,70.9 0,72.7 0,74.0 0,73.0 0,75.4 0,74.3 0,72.8 0,78.4 0,74.1 0,72.5 0,74.8 0,77.1 0,72.5 0,72.3 0,71.9 0,72.8 0,74.7 0,72.3 0,72.6 0,79.4 0,72.5 0,76.8 0,73.3 0,74.1 0,74.4 0,71.4 0,75.5 0,72.6 0,76.2 0,75.1 0,73.0 0,73.0 0,78.7 0,76.6 0,74.3 0,74.4 0,69.0"/>
<polyline class="sc" transform="translate(727.39 0)" points="0,74.0 0,80.3 0,79.8 0,77.8 0,76.6 0,81.7 0,78.5 0,74.3 0,69.6 0,75.8 0,74.7 0,71.5 0,76.5 0,74.8 0,74.3 0,82.2 0,73.1 0,76.1 0,73.3 0,79.2 0,72.2 0,73.9 0,69.0 0,74.3 0,74.0 0,74.3 0,82.8 0,72.0 0,69.3 0,76.8 0,76.2 0,76.8 0,76.0 0,70.0 0,73.0 0,72.9 0,80.5 0,74.7 0,79.8 0,70.9 0,77.5 0,72.5 0,76.2 0,73.1 0,78.7 0,77.0 0,80.6 0,72.2 0,79.4 0,74.1 0,74.7 0,75.1 0,76.2 0,70.1 0,76.1 0,73.9 0,73.1 0,82.2 0,75.9 0,76.7 0,70.9 0,75.6 0,71.7 0,76.2 0,78.2 0,74.3 0,79.6 0,75.6 0,70.6 0,79.9 0,81.6 0,74.9 0,78.6 0,74.4 0,75.3 0,75.5 0,80.1 0,75.2 0,72.7 0,73.0 0,79.7 0,75.4 0,70.1 0,73.1 0,80.0 0,74.5 0,74.7 0,74.7 0,75.9 0,76.8 0,76.0 0,73.6 0,76.5 0,72.8 0,75.8 0,76.9 0,73.6 0,80.9 0,71.8 0,73.4 0,80.3 0,72.5 0,72.4 0,74.0 0,73.0 0,79.6 0,70.6 0,74.7 0,76.5 0,76.5 0,72.6 0,83.6 0,78.9 0,72.7 0,79.4 0,73.9 0,79.9 0,78.3 0,76.1 0,72.4 0,73.9 0,81.8 0,80.8 0,75.8 0,77.4 0,79.9 0,76.0 0,71.7 0,76.5 0,81.0 0,77.4 0,72.7 0,74.8 0,74.6 0,72.9 0,77.0 0,72.2 0,71.6 0,77.2 0,80.2 0,74.1 0,78.6 0,74.4 0,81.9 0,79.5 0,76.8 0,71.9 0,76.6 0,72.1 0,76.2 0,76.2 0,78.5 0,74.0 0,77.0 0,77.1 0,80.2 0,74.0 0,76.9 0,70.6 0,82.9 0,80.0 0,78.1 0,77.2 0,73.8 0,75.1 0,74.8 0,77.8 0,76.6 0,67.4 0,75.6 0,70.4 0,81.5 0,78.1 0,69.8 0,79.5 0,72.5 0,79.2 0,74.1 0,72.2 0,72.7 0,80.2 0,75.4 0,81.8 0,72.7 0,76.7 0,72.2 0,75.3 0,73.8 0,73.6 0,71.6 0,80.8 0,67.9 0,76.3 0,76.5 0,80.7 0,74.2 0,72.1 0,78.9 0,76.2 0,79.8 0,77.4 0,77.4 0,78.3 0,74.8 0,75.4 0,77.2 0,75.1 0,74.9 0,73.0 0,70.9 0,76.3 0,76.1 0,76.7 0,70.5 0,77.1 0,76.5 0,76.5 0,75.4 0,79.7 0,74.6 0,72.5 0,74.7 0,77.9 0,74.2 0,73.3 0,75.6 0,76.1 0,74.1 0,77.6 0,78.0 0,75.7 0,77.4 0,76.9 0,75.3 0,78.0 0,76.2 0,73.2 0,76.0 0,73.0 0,76.9 0,71.9 0,72.3 0,75.6 0,71.1 0,71.2 0,82.0 0,72.2 0,75.1 0,76.5 0,77.4 0,70.3 0,76.7 0,73.9 0,77.0 0,76.9 0,69.9 0,68.7 0,73.8 0,75.3 0,78.0 0,72.2 0,76.7 0,77.7 0,75.5 0,73.8 0,76.1 0,75.7 0,70.2 0,77.6 0,72.9 0,75.1 0,77.8 0,75.7 0,78.3 0,72.9 0,74.5 0,69.4 0,80.1 0,72.9 0,72.1 0,74.0 0,74.7 0,77.0 0,73.3 0,77.8 0,73.8 0,71.4 0,75.4 0,71.3 0,71.3 0,74.0 0,74.7 0,77.8 0,76.2 0,71.5 0,76.2 0,71.0 0,70.1 0,76.5 0,76.4 0,79.1 0,76.4 0,74.4 0,73.8 0,76.7 0,81.3 0,81.2 0,74.9 0,69.6 0,71.8 0,69.5 0,74.3 0,75.2 0,74.7 0,72.8 0,68.9 0,75.9 0,76.4 0,75.1 0,72.0 0,74.4 0,79.6 0,73.7 0,64.9 0,66.0"/>
<polyline class="sc" transform="translate(778.51 0)" points="0,79.2 0,81.9 0,71.5 0,76.8 0,79.1 0,72.8 0,75.3 0,75.7 0,77.1 0,84.3 0,70.5 0,72.2 0,75.8 0,73.6 0,74.5 0,83.8 0,68.0 0,78.3 0,80.7 0,84.9 0,70.5 0,74.3 0,78.3 0,76.7 0,75.4 0,78.9 0,73.1 0,74.7 0,76.0 0,69.4 0,76.9 0,71.4 0,84.6 0,70.6 0,79.7 0,79.0 0,72.3 0,74.5 0,74.5 0,82.4 0,80.5 0,71.2 0,71.0 0,74.5 0,72.3 0,80.3 0,80.4 0,72.5 0,78.8 0,72.7 0,79.5 0,83.1 0,80.4 0,74.6 0,83.9 0,76.3 0,71.9 0,80.6 0,74.1 0,77.8 0,75.4 0,74.7 0,82.1 0,71.2 0,77.5 0,78.6 0,72.8 0,74.4 0,73.7 0,74.0 0,73.1 0,72.9 0,75.4 0,78.7 0,77.1 0,79.1 0,74.5 0,78.6 0,69.2 0,81.2 0,74.3 0,73.3 0,77.1 0,80.8 0,83.9 0,81.1 0,76.2 0,71.1 0,74.3 0,79.7 0,71.5 0,74.8 0,74.4 0,80.5 0,81.7 0,80.1 0,76.1 0,81.8 0,79.4 0,76.8 0,80.9 0,76.1 0,79.7 0,69.0 0,78.1 0,73.0 0,80.3 0,82.6 0,76.1 0,80.0 0,76.1 0,79.8 0,83.5 0,75.6 0,77.9 0,78.3 0,75.4 0,74.0 0,78.7 0,76.2 0,78.0 0,78.0 0,79.3 0,74.4 0,81.9 0,77.1 0,76.0 0,86.6 0,83.3 0,77.1 0,83.9 0,72.3 0,74.6 0,71.7 0,73.8 0,80.3 0,75.0 0,75.1 0,71.3 0,78.3 0,79.8 0,69.6 0,78.2 0,77.8 0,77.9 0,73.4 0,86.0 0,78.1 0,82.2 0,83.6 0,82.3 0,72.8 0,81.8 0,75.0 0,73.1 0,71.5 0,75.0 0,81.4 0,72.8 0,74.9 0,79.3 0,87.3 0,73.4 0,76.2 0,74.9 0,73.4 0,83.0 0,71.7 0,77.2 0,70.8 0,69.4 0,79.3 0,74.5 0,81.0 0,74.6 0,72.2 0,76.3 0,77.1 0,84.2 0,73.3 0,71.3 0,72.9 0,86.9 0,75.8 0,73.0 0,79.5 0,78.5 0,72.9 0,80.7 0,77.4 0,76.6 0,80.0 0,81.8 0,83.6 0,79.7 0,70.5 0,76.2 0,80.9 0,79.1 0,80.7 0,75.3 0,87.3 0,76.0 0,80.2 0,70.7 0,84.5 0,76.8 0,74.7 0,75.7 0,78.8 0,76.1 0,84.9 0,75.8 0,78.6 0,76.9 0,82.4 0,75.5 0,75.5 0,77.6 0,78.2 0,76.5 0,81.6 0,79.3 0,66.3 0,67.4 0,76.6 0,75.6 0,79.8 0,84.7 0,75.5 0,76.9 0,78.7 0,73.6 0,75.9 0,72.3 0,71.1 0,75.0 0,74.7 0,77.7 0,74.4 0,77.9 0,75.9 0,82.1 0,83.1 0,82.3 0,79.8 0,79.5 0,81.3 0,75.4 0,78.9 0,74.0 0,77.8 0,70.6 0,80.1 0,74.2 0,78.4 0,74.7 0,83.2 0,76.9 0,72.2 0,75.8 0,77.7 0,75.3 0,80.2 0,76.8 0,72.3 0,76.0 0,73.0 0,69.0 0,77.8 0,72.4 0,75.7 0,80.5 0,75.9 0,76.1 0,80.4 0,75.5 0,75.0 0,79.4 0,78.6 0,73.8 0,76.5 0,80.4 0,74.6 0,84.6 0,70.6 0,77.0 0,73.9 0,83.2 0,85.3 0,78.8 0,70.2 0,78.5 0,75.1 0,73.9 0,78.5 0,81.9 0,76.4 0,76.3 0,77.1 0,72.7 0,83.2 0,74.5 0,76.4 0,73.6 0,76.3 0,74.9 0,75.4 0,73.9 0,70.7 0,78.3 0,74.5 0,75.3 0,79.9 0,73.3 0,73.9 0,77.0 0,76.0 0,78.4 0,77.8 0,81.8 0,75.6 0,72.3 0,69.8 0,64.0 0,65.2 0,88.6"/>
<polyline class="sc" transform="translate(829.63 0)" points="0,75.7 0,78.1 0,73.5 0,73.4 0,79.9 0,75.7 0,84.4 0,80.2 0,73.3 0,74.5 0,77.9 0,73.0 0,72.8 0,78.9 0,77.1 0,72.4 0,76.7 0,68.4 0,77.9 0,78.6 0,79.4 0,82.1 0,80.8 0,74.7 0,84.9 0,77.0 0,84.2 0,78.3 0,85.6 0,75.0 0,69.5 0,79.1 0,77.7 0,79.6 0,81.2 0,82.5 0,77.2 0,79.2 0,75.5 0,79.9 0,74.3 0,82.2 0,84.8 0,69.1 0,83.0 0,81.3 0,76.6 0,72.6 0,72.8 0,84.8 0,81.1 0,89.2 0,87.6 0,74.1 0,77.8 0,79.0 0,79.7 0,70.0 0,72.2 0,81.9 0,64.3 0,73.1 0,90.0 0,71.5 0,81.2 0,81.9 0,81.8 0,84.4 0,75.6 0,79.7 0,75.2 0,75.6 0,76.6 0,74.0 0,78.8 0,68.5 0,71.3 0,80.9 0,65.8 0,84.9 0,67.3 0,88.4 0,68.3 0,81.4 0,84.3 0,82.6 0,78.5 0,73.8 0,78.0 0,67.7 0,70.4 0,75.1 0,73.8 0,66.0 0,71.4 0,80.7 0,77.9 0,79.9 0,82.4 0,71.3 0,78.1 0,78.2 0,80.2 0,83.2 0,74.8 0,86.1 0,74.3 0,75.9 0,75.0 0,71.1 0,81.8 0,81.3 0,66.2 0,67.8 0,81.5 0,80.4 0,81.3 0,80.1 0,66.5 0,81.8 0,68.9 0,71.7 0,78.5 0,65.8 0,81.5 0,87.2 0,84.8 0,79.9 0,77.2 0,74.2 0,79.6 0,79.9 0,77.6 0,80.2 0,84.4 0,80.6 0,76.1 0,72.2 0,73.9 0,76.4 0,89.1 0,77.3 0,79.6 0,80.1 0,75.9 0,82.6 0,77.4 0,87.0 0,68.5 0,81.2 0,74.9 0,73.4 0,85.8 0,81.6 0,81.0 0,80.4 0,75.7 0,81.7 0,82.3 0,81.1 0,79.3 0,81.4 0,83.4 0,72.7 0,71.3 0,76.7 0,83.5 0,74.0 0,84.1 0,81.8 0,79.8 0,75.2 0,85.3 0,79.7 0,76.8 0,69.0 0,82.2 0,78.0 0,92.3 0,70.7 0,81.4 0,73.7 0,77.8 0,80.2 0,70.8 0,75.7 0,76.0 0,80.1 0,74.6 0,79.9 0,77.2 0,74.5 0,82.1 0,75.3 0,78.7 0,77.5 0,79.1 0,85.6 0,79.1 0,85.0 0,76.4 0,74.2 0,77.4 0,76.5 0,81.5 0,70.2 0,69.0 0,81.9 0,90.8 0,66.4 0,76.8 0,73.3 0,70.4 0,80.6 0,70.0 0,85.3 0,83.8 0,82.4 0,81.3 0,79.3 0,74.5 0,70.8 0,82.8 0,73.4 0,81.9 0,80.1 0,65.4 0,79.7 0,81.5 0,76.9 0,70.1 0,83.9 0,67.1 0,75.1 0,84.5 0,72.5 0,83.8 0,79.0 0,80.6 0,69.1 0,77.5 0,79.2 0,68.1 0,77.6 0,76.5 0,83.2 0,71.0 0,71.8 0,80.4 0,82.0 0,82.1 0,80.3 0,78.0 0,69.4 0,73.9 0,74.0 0,80.1 0,80.6 0,79.7 0,78.7 0,73.1 0,90.5 0,79.5 0,89.1 0,76.1 0,77.1 0,89.4 0,79.6 0,75.6 0,83.3 0,81.3 0,78.9 0,70.3 0,71.2 0,82.4 0,82.2 0,73.1 0,83.3 0,72.3 0,76.3 0,81.1 0,76.3 0,65.7 0,79.8 0,80.7 0,74.5 0,91.3 0,69.8 0,82.2 0,82.8 0,81.6 0,70.4 0,81.1 0,81.0 0,76.6 0,70.6 0,75.4 0,79.9 0,82.7 0,81.3 0,86.7 0,79.8 0,71.9 0,84.8 0,91.5 0,81.0 0,79.1 0,72.1 0,76.6 0,78.6 0,82.8 0,87.8 0,76.2 0,81.9 0,79.4 0,66.6 0,71.0 0,69.1 0,68.2 0,82.6 0,79.7 0,80.5 0,80.8 0,87.9 0,82.8 0,74.2 0,59.9 0,61.8 0,92.8"/>
<polyline class="sc" transform="translate(880.75 0)" points="0,64.4 0,77.8 0,80.5 0,79.4 0,84.8 0,76.7 0,65.6 0,85.6 0,79.2 0,88.2 0,87.1 0,88.7 0,77.4 0,86.4 0,93.6 0,89.1 0,85.2 0,88.9 0,73.9 0,76.8 0,73.5 0,74.8 0,78.1 0,80.2 0,78.4 0,74.1 0,83.2 0,80.8 0,76.4 0,70.1 0,79.3 0,97.7 0,81.2 0,73.5 0,78.9 0,97.2 0,86.8 0,80.2 0,77.9 0,78.4 0,86.8 0,75.2 0,75.8 0,70.0 0,80.5 0,62.2 0,87.0 0,91.9 0,81.5 0,87.8 0,69.7 0,92.3 0,82.9 0,76.1 0,68.9 0,78.9 0,63.8 0,75.6 0,83.7 0,77.1 0,76.8 0,87.7 0,83.8 0,93.3 0,85.7 0,76.1 0,77.3 0,73.8 0,84.8 0,77.4 0,90.5 0,83.2 0,75.0 0,86.8 0,76.2 0,67.7 0,93.7 0,79.1 0,90.8 0,86.3 0,86.7 0,71.5 0,91.0 0,83.6 0,81.2 0,78.0 0,63.9 0,98.3 0,94.2 0,84.6 0,90.0 0,83.6 0,76.6 0,82.6 0,75.2 0,74.3 0,78.7 0,83.2 0,79.1 0,94.3 0,83.5 0,80.7 0,74.9 0,87.8 0,75.0 0,72.6 0,68.3 0,96.7 0,86.9 0,92.8 0,79.8 0,90.8 0,66.6 0,87.0 0,87.4 0,81.9 0,83.4 0,70.4 0,81.6 0,85.9 0,77.0 0,81.1 0,80.1 0,81.0 0,88.0 0,79.3 0,77.6 0,79.8 0,82.2 0,78.0 0,86.2 0,83.4 0,90.2 0,76.7 0,77.7 0,70.6 0,85.6 0,79.7 0,74.0 0,80.6 0,81.3 0,73.8 0,82.0 0,72.4 0,77.2 0,69.1 0,80.6 0,74.6 0,75.0 0,84.4 0,76.6 0,86.6 0,77.4 0,75.8 0,92.2 0,86.3 0,82.0 0,81.0 0,83.8 0,84.6 0,75.8 0,85.6 0,76.9 0,69.4 0,76.0 0,82.5 0,84.8 0,75.3 0,85.4 0,74.1 0,79.0 0,76.3 0,71.9 0,82.0 0,81.0 0,82.8 0,86.0 0,65.0 0,75.5 0,88.7 0,73.3 0,79.3 0,80.1 0,83.0 0,70.7 0,71.1 0,68.8 0,78.9 0,72.2 0,91.8 0,73.4 0,82.3 0,90.5 0,68.8 0,85.7 0,82.3 0,76.4 0,79.5 0,81.6 0,79.0 0,82.8 0,88.0 0,75.6 0,76.2 0,72.1 0,79.7 0,67.7 0,83.2 0,69.5 0,78.5 0,83.0 0,84.1 0,83.5 0,76.5 0,87.9 0,86.3 0,81.6 0,90.2 0,85.6 0,87.5 0,66.4 0,83.4 0,75.4 0,79.3 0,77.8 0,80.6 0,65.5 0,80.2 0,85.2 0,67.9 0,75.4 0,82.4 0,71.1 0,63.9 0,84.4 0,75.4 0,91.0 0,76.6 0,80.8 0,78.9 0,80.1 0,90.0 0,71.7 0,87.7 0,82.5 0,80.3 0,75.9 0,78.6 0,78.2 0,72.2 0,79.5 0,74.1 0,80.4 0,88.1 0,79.8 0,81.3 0,83.0 0,77.7 0,81.2 0,81.6 0,70.6 0,75.1 0,67.2 0,70.1 0,84.0 0,83.0 0,84.4 0,76.7 0,89.7 0,83.4 0,81.5 0,76.1 0,73.9 0,86.9 0,87.5 0,71.1 0,89.6 0,83.5 0,76.1 0,79.2 0,85.0 0,87.1 0,85.7 0,84.2 0,82.4 0,73.2 0,79.0 0,86.4 0,75.2 0,88.7 0,85.0 0,82.5 0,82.5 0,80.9 0,82.1 0,83.7 0,78.7 0,85.4 0,95.2 0,75.0 0,86.6 0,73.4 0,86.1 0,82.7 0,75.5 0,74.2 0,84.2 0,66.9 0,77.1 0,92.6 0,86.0 0,85.4 0,66.2 0,82.6 0,91.8 0,76.3 0,81.5 0,74.4 0,86.1 0,78.2 0,71.5 0,81.2 0,82.9 0,83.9 0,78.1 0,66.4 0,67.8 0,79.1 0,100.5 0,102.9"/>
<polyline class="sc" transform="translate(931.87 0)" points="0,82.8 0,74.6 0,90.7 0,77.7 0,87.4 0,84.0 0,94.8 0,68.8 0,80.3 0,82.8 0,88.9 0,79.7 0,79.7 0,95.1 0,95.9 0,82.6 0,84.3 0,81.1 0,83.4 0,86.7 0,81.1 0,89.2 0,102.4 0,91.1 0,94.7 0,91.8 0,72.5 0,77.6 0,81.6 0,81.9 0,81.5 0,83.9 0,74.1 0,79.1 0,85.9 0,80.0 0,86.7 0,81.5 0,68.1 0,85.3 0,70.4 0,80.3 0,72.5 0,74.8 0,70.8 0,81.0 0,81.7 0,78.3 0,95.6 0,84.0 0,90.4 0,79.8 0,102.9 0,91.1 0,75.6 0,99.2 0,79.6 0,75.9 0,68.9 0,82.6 0,84.4 0,71.4 0,92.7 0,87.5 0,85.1 0,87.9 0,85.2 0,68.5 0,78.8 0,84.4 0,82.5 0,75.0 0,90.6 0,90.2 0,87.4 0,74.6 0,85.4 0,80.7 0,68.8 0,81.2 0,73.9 0,84.9 0,89.6 0,88.6 0,94.2 0,78.0 0,78.0 0,87.6 0,72.6 0,90.0 0,80.9 0,86.2 0,88.1 0,83.8 0,86.2 0,80.3 0,85.0 0,82.4 0,79.1 0,77.9 0,82.0 0,79.2 0,75.3 0,97.6 0,92.9 0,103.3 0,75.8 0,71.7 0,83.3 0,99.7 0,90.2 0,79.6 0,78.9 0,86.2 0,86.0 0,79.0 0,84.5 0,74.4 0,90.8 0,78.5 0,97.9 0,85.2 0,65.9 0,87.5 0,83.0 0,80.3 0,78.8 0,84.7 0,78.1 0,81.6 0,75.6 0,75.4 0,86.5 0,72.6 0,93.5 0,75.6 0,79.2 0,84.1 0,72.1 0,74.4 0,92.3 0,81.8 0,76.4 0,89.4 0,81.4 0,88.8 0,88.6 0,74.2 0,73.1 0,83.1 0,70.5 0,75.0 0,82.8 0,94.4 0,82.2 0,91.4 0,85.3 0,77.0 0,85.4 0,83.1 0,91.4 0,92.1 0,87.0 0,97.8 0,66.6 0,75.9 0,89.0 0,85.1 0,78.0 0,87.8 0,88.1 0,81.3 0,80.8 0,76.7 0,86.9 0,84.7 0,76.8 0,96.3 0,79.0 0,93.7 0,83.1 0,72.5 0,70.7 0,81.0 0,72.6 0,75.9 0,82.3 0,90.5 0,74.4 0,79.3 0,74.9 0,86.3 0,92.4 0,73.2 0,91.3 0,93.0 0,83.6 0,86.4 0,78.6 0,92.0 0,81.6 0,79.5 0,94.3 0,85.6 0,80.1 0,77.3 0,78.6 0,97.2 0,77.2 0,76.9 0,77.1 0,72.6 0,93.5 0,82.7 0,80.8 0,79.6 0,91.5 0,85.0 0,75.5 0,87.6 0,87.0 0,79.5 0,72.4 0,80.8 0,75.0 0,97.5 0,80.6 0,89.4 0,82.5 0,86.7 0,92.1 0,89.7 0,87.4 0,77.0 0,71.9 0,81.3 0,82.7 0,71.3 0,99.4 0,83.1 0,98.3 0,94.7 0,75.6 0,92.7 0,74.8 0,96.3 0,92.2 0,82.4 0,73.1 0,76.1 0,81.1 0,84.5 0,74.3 0,85.3 0,75.8 0,85.1 0,79.4 0,82.3 0,88.2 0,72.8 0,83.5 0,84.0 0,80.3 0,75.9 0,87.9 0,65.9 0,84.3 0,82.7 0,73.8 0,80.5 0,76.2 0,80.1 0,90.1 0,88.6 0,83.3 0,74.3 0,84.2 0,87.6 0,70.8 0,80.5 0,78.2 0,75.0 0,88.9 0,95.0 0,82.2 0,82.5 0,70.4 0,78.5 0,80.8 0,78.0 0,84.3 0,87.3 0,73.5 0,65.9 0,84.4 0,76.2 0,87.5 0,79.0 0,94.6 0,78.7 0,88.5 0,83.5 0,80.2 0,67.0 0,82.0 0,80.4 0,63.2 0,81.5 0,82.3 0,83.0 0,82.5 0,73.7 0,84.1 0,89.3 0,88.3 0,83.8 0,78.7 0,87.5 0,73.1 0,64.9 0,76.1 0,84.5 0,96.3 0,84.5 0,91.9 0,81.6 0,74.9 0,63.5 0,96.1 0,58.6 0,60.6 0,105.5 0,108.1"/>
<polyline class="sc" transform="translate(982.99 0)" points="0,96.9 0,96.3 0,79.8 0,77.3 0,92.7 0,75.3 0,79.2 0,81.5 0,70.8 0,78.3 0,70.6 0,66.3 0,75.4 0,80.6 0,98.9 0,93.9 0,90.5 0,75.4 0,87.0 0,67.0 0,79.0 0,85.3 0,95.7 0,89.2 0,66.7 0,69.5 0,84.7 0,90.0 0,100.7 0,100.2 0,92.9 0,90.8 0,74.1 0,89.2 0,86.1 0,97.4 0,99.0 0,85.1 0,76.4 0,75.6 0,96.2 0,87.8 0,107.5 0,78.0 0,82.0 0,84.2 0,85.3 0,96.1 0,83.1 0,82.1 0,77.9 0,91.3 0,102.7 0,75.5 0,80.4 0,70.7 0,82.5 0,84.3 0,80.2 0,96.6 0,73.6 0,74.2 0,81.6 0,72.3 0,103.4 0,88.3 0,106.3 0,91.0 0,69.3 0,87.0 0,89.2 0,91.2 0,83.1 0,65.6 0,74.6 0,82.9 0,92.1 0,88.0 0,83.8 0,90.0 0,90.1 0,92.9 0,74.7 0,71.1 0,68.5 0,84.7 0,97.1 0,68.8 0,100.5 0,63.9 0,81.6 0,79.8 0,104.4 0,97.2 0,82.7 0,70.0 0,80.4 0,93.0 0,72.8 0,75.5 0,89.4 0,77.2 0,83.7 0,71.6 0,82.7 0,83.3 0,81.3 0,78.6 0,72.4 0,69.8 0,85.7 0,77.5 0,99.3 0,72.7 0,75.5 0,84.6 0,84.8 0,89.6 0,83.5 0,85.5 0,88.8 0,78.9 0,73.2 0,95.9 0,67.9 0,86.4 0,105.0 0,89.0 0,83.6 0,81.1 0,69.8 0,75.5 0,72.0 0,91.6 0,72.8 0,92.3 0,81.3 0,85.3 0,83.4 0,76.1 0,84.1 0,67.4 0,76.5 0,85.5 0,83.5 0,88.3 0,92.4 0,90.6 0,96.9 0,93.5 0,83.0 0,85.0 0,84.3 0,85.9 0,94.3 0,91.2 0,95.2 0,91.7 0,84.7 0,86.9 0,78.9 0,74.3 0,70.0 0,84.7 0,89.3 0,83.2 0,78.2 0,92.3 0,76.3 0,98.3 0,96.1 0,90.0 0,91.2 0,103.7 0,74.9 0,75.2 0,75.1 0,85.0 0,80.2 0,73.3 0,79.4 0,78.3 0,79.0 0,81.0 0,75.2 0,85.0 0,89.6 0,101.1 0,84.6 0,99.7 0,92.2 0,93.9 0,79.1 0,84.0 0,90.8 0,67.3 0,78.0 0,73.5 0,83.6 0,75.7 0,73.4 0,99.7 0,82.6 0,89.2 0,78.3 0,92.8 0,77.7 0,93.1 0,92.8 0,68.5 0,96.6 0,82.6 0,88.7 0,74.3 0,96.1 0,77.5 0,89.2 0,69.2 0,83.7 0,85.8 0,85.7 0,95.5 0,92.6 0,84.1 0,92.8 0,77.8 0,74.0 0,76.5 0,78.9 0,89.7 0,74.0 0,76.7 0,84.2 0,77.7 0,76.8 0,85.1 0,83.9 0,89.1 0,64.5 0,83.6 0,87.2 0,106.2 0,62.2 0,85.2 0,103.3 0,75.9 0,96.1 0,80.9 0,82.8 0,65.8 0,87.4 0,69.0 0,93.8 0,103.8 0,95.7 0,75.4 0,84.9 0,84.7 0,86.3 0,94.8 0,89.5 0,101.0 0,90.4 0,88.1 0,82.9 0,97.0 0,88.5 0,86.2 0,84.9 0,84.4 0,72.2 0,78.1 0,74.0 0,68.1 0,92.3 0,79.6 0,85.5 0,67.5 0,88.1 0,76.2 0,79.2 0,75.3 0,102.1 0,76.5 0,70.5 0,68.2 0,90.5 0,91.9 0,84.1 0,84.3 0,75.6 0,98.2 0,95.3 0,85.0 0,98.3 0,70.3 0,80.1 0,67.4 0,86.0 0,91.3 0,86.3 0,66.9 0,98.7 0,91.3 0,91.7 0,93.6 0,87.2 0,78.0 0,96.4 0,83.3 0,71.6 0,87.5 0,87.0 0,95.9 0,92.7 0,83.7 0,70.1 0,96.6 0,88.0 0,95.5 0,78.4 0,99.5 0,77.1 0,85.9 0,81.1 0,95.0 0,84.1 0,85.4 0,88.2 0,105.6 0,58.6 0,110.0 0,113.1 0,115.6"/>
<g shape-rendering="crispEdges" fill="none" stroke-width="1">
<path d="M625.5 72.5V71.5M625.5 76.5V74.5" stroke="#000" stroke-dasharray="10.4 5.6"/>
<path d="M619 71.5H631M619 76.5H631" stroke="#000"/>
<rect x="614.5" y="72.5" width="21" height="2" stroke="#0000ff"/>
<path d="M614 73.5H636" stroke="#ff0000"/>
</g>
<g shape-rendering="crispEdges" fill="none" stroke-width="1">
<path d="M676.5 72.5V69.5M676.5 79.5V75.5" stroke="#000" stroke-dasharray="10.4 5.6"/>
<path d="M671 69.5H682M671 79.5H682" stroke="#000"/>
<rect x="665.5" y="72.5" width="21" height="3" stroke="#0000ff"/>
<path d="M665 74.5H687" stroke="#ff0000"/>
</g>
<g shape-rendering="crispEdges" fill="none" stroke-width="1">
<path d="M727.5 73.5V67.5M727.5 83.5V77.5" stroke="#000" stroke-dasharray="10.4 5.6"/>
<path d="M722 67.5H733M722 83.5H733" stroke="#000"/>
<rect x="717.5" y="73.5" width="20" height="4" stroke="#0000ff"/>
<path d="M717 75.5H738" stroke="#ff0000"/>
</g>
<g shape-rendering="crispEdges" fill="none" stroke-width="1">
<path d="M778.5 74.5V66.5M778.5 87.5V79.5" stroke="#000" stroke-dasharray="10.4 5.6"/>
<path d="M773 66.5H784M773 87.5H784" stroke="#000"/>
<rect x="768.5" y="74.5" width="20" height="5" stroke="#0000ff"/>
<path d="M768 76.5H789" stroke="#ff0000"/>
</g>
<g shape-rendering="crispEdges" fill="none" stroke-width="1">
<path d="M829.5 74.5V64.5M829.5 92.5V81.5" stroke="#000" stroke-dasharray="10.4 5.6"/>
<path d="M824 64.5H835M824 92.5H835" stroke="#000"/>
<rect x="819.5" y="74.5" width="20" height="7" stroke="#0000ff"/>
<path d="M819 78.5H840" stroke="#ff0000"/>
</g>
<g shape-rendering="crispEdges" fill="none" stroke-width="1">
<path d="M880.5 75.5V62.5M880.5 98.5V84.5" stroke="#000" stroke-dasharray="10.4 5.6"/>
<path d="M875 62.5H886M875 98.5H886" stroke="#000"/>
<rect x="870.5" y="75.5" width="20" height="9" stroke="#0000ff"/>
<path d="M870 80.5H891" stroke="#ff0000"/>
</g>
<g shape-rendering="crispEdges" fill="none" stroke-width="1">
<path d="M931.5 77.5V63.5M931.5 103.5V87.5" stroke="#000" stroke-dasharray="10.4 5.6"/>
<path d="M926 63.5H937M926 103.5H937" stroke="#000"/>
<rect x="921.5" y="77.5" width="20" height="10" stroke="#0000ff"/>
<path d="M921 82.5H942" stroke="#ff0000"/>
</g>
<g shape-rendering="crispEdges" fill="none" stroke-width="1">
<path d="M982.5 78.5V62.5M982.5 107.5V90.5" stroke="#000" stroke-dasharray="10.4 5.6"/>
<path d="M977 62.5H988M977 107.5H988" stroke="#000"/>
<rect x="972.5" y="78.5" width="21" height="12" stroke="#0000ff"/>
<path d="M972 84.5H994" stroke="#ff0000"/>
</g>
<path d="M599.5 73.5H1008.5" stroke="#000" stroke-width="1" stroke-dasharray="9 2 3 2" stroke-dashoffset="1.5" fill="none" shape-rendering="crispEdges"/>
<path d="M625.5 326v-5M625.5 4v5M676.5 326v-5M676.5 4v5M727.5 326v-5M727.5 4v5M778.5 326v-5M778.5 4v5M829.5 326v-5M829.5 4v5M880.5 326v-5M880.5 4v5M931.5 326v-5M931.5 4v5M982.5 326v-5M982.5 4v5M599 302.5h5M1009 302.5h-5M599 256.5h5M1009 256.5h-5M599 210.5h5M1009 210.5h-5M599 164.5h5M1009 164.5h-5M599 119.5h5M1009 119.5h-5M599 73.5h5M1009 73.5h-5M599 27.5h5M1009 27.5h-5" stroke="#262626" stroke-width="1" fill="none" shape-rendering="crispEdges"/>
<rect x="599.5" y="4.5" width="409" height="321" stroke="#262626" stroke-width="1" fill="none" shape-rendering="crispEdges"/>
<g font-size="15.6" fill="#262626" stroke="#262626" stroke-width="0.25">
<text x="624.5" y="345.7" text-anchor="middle">0.1</text>
<text x="675.62" y="345.7" text-anchor="middle">0.2</text>
<text x="726.74" y="345.7" text-anchor="middle">0.3</text>
<text x="777.86" y="345.7" text-anchor="middle">0.4</text>
<text x="828.98" y="345.7" text-anchor="middle">0.5</text>
<text x="880.1" y="345.7" text-anchor="middle">0.6</text>
<text x="931.22" y="345.7" text-anchor="middle">0.7</text>
<text x="982.34" y="345.7" text-anchor="middle">0.8</text>
<text x="594" y="307.67" text-anchor="end">0.9</text>
<text x="594" y="261.81" text-anchor="end">0.92</text>
<text x="594" y="215.96" text-anchor="end">0.94</text>
<text x="594" y="170.1" text-anchor="end">0.96</text>
<text x="594" y="124.24" text-anchor="end">0.98</text>
<text x="594" y="78.39" text-anchor="end">1</text>
<text x="594" y="32.53" text-anchor="end">1.02</text>
</g>
<text transform="translate(751.2 366.4) scale(1 0.98)" font-size="16.6" fill="#262626" stroke="#262626" stroke-width="0.2" textLength="93.3">std/med of v</text>
<text x="849.5" y="374.7" font-size="14" fill="#262626">c</text>
<g stroke="#000" stroke-width="0.3">
<text x="828.8" y="32.7" font-size="17.6" fill="#000">v</text>
<text x="837.7" y="41.6" font-size="14" fill="#000">c</text>
<text x="850" y="32.7" font-size="17.6" fill="#000" textLength="123.2">from log-normal</text>
</g>
<g transform="translate(550.8 251.1) rotate(-90)" fill="#262626" stroke="#262626" stroke-width="0.25">
<text x="0" y="0" font-size="19" textLength="144.5" lengthAdjust="spacingAndGlyphs">estimated values, t</text>
<text x="145.1" y="-7.6" font-size="15.2" textLength="27.4" lengthAdjust="spacingAndGlyphs">(est)</text>
<text x="145.3" y="7.9" font-size="14">R</text>
</g>
</g>
<g id="panel3">
<g stroke="#262626" stroke-opacity="0.15" stroke-width="1" fill="none" shape-rendering="crispEdges"><path d="M94.5 429.5V750.5M145.5 429.5V750.5M196.5 429.5V750.5M248.5 429.5V750.5M299.5 429.5V750.5M351.5 429.5V750.5M402.5 429.5V750.5M454.5 429.5V750.5"/><path d="M68.5 734.5H479.5M68.5 692.5H479.5M68.5 651.5H479.5M68.5 610.5H479.5M68.5 569.5H479.5M68.5 528.5H479.5M68.5 487.5H479.5M68.5 446.5H479.5"/></g>
<polyline class="sc" transform="translate(94.25 0)" points="0,676.8 0,685.8 0,684.4 0,679.1 0,672.9 0,678.7 0,685.8 0,676.5 0,677.3 0,684.9 0,682.9 0,684.3 0,680.0 0,673.6 0,679.3 0,679.5 0,678.9 0,674.1 0,680.5 0,676.7 0,677.3 0,680.8 0,682.8 0,678.1 0,674.6 0,676.6 0,673.6 0,680.9 0,676.6 0,678.5 0,674.3 0,676.8 0,676.6 0,684.4 0,680.8 0,682.7 0,674.9 0,676.3 0,680.8 0,676.9 0,680.0 0,677.8 0,679.2 0,678.8 0,682.5 0,672.2 0,679.5 0,678.5 0,681.8 0,677.9 0,679.1 0,675.9 0,678.6 0,674.4 0,680.7 0,678.5 0,677.7 0,685.2 0,681.6 0,677.4 0,677.4 0,673.4 0,683.2 0,677.9 0,679.5 0,675.0 0,680.9 0,682.1 0,682.1 0,679.6 0,677.5 0,681.6 0,679.4 0,678.3 0,677.9 0,678.9 0,683.4 0,679.1 0,682.6 0,683.4 0,681.9 0,673.0 0,679.9 0,678.1 0,679.7 0,678.7 0,681.7 0,678.5 0,679.0 0,678.8 0,680.3 0,678.7 0,681.2 0,683.5 0,678.7 0,680.1 0,680.2 0,677.5 0,681.3 0,680.2 0,681.8 0,678.3 0,682.0 0,681.1 0,675.4 0,682.2 0,677.8 0,674.7 0,677.1 0,678.7 0,675.8 0,682.7 0,682.1 0,681.6 0,674.8 0,676.4 0,680.1 0,678.1 0,679.4 0,681.4 0,680.6 0,677.9 0,683.4 0,680.6 0,682.2 0,679.1 0,681.4 0,677.8 0,680.0 0,677.0 0,680.6 0,682.1 0,681.7 0,677.6 0,676.4 0,678.9 0,679.3 0,674.8 0,675.6 0,677.7 0,676.2 0,683.9 0,677.9 0,684.1 0,674.9 0,678.5 0,677.5 0,680.0 0,678.3 0,676.0 0,673.2 0,677.0 0,681.9 0,680.8 0,678.3 0,678.3 0,677.5 0,680.2 0,680.6 0,679.9 0,676.0 0,680.4 0,677.3 0,680.6 0,681.4 0,678.5 0,681.4 0,675.7 0,677.3 0,675.8 0,681.5 0,680.6 0,679.3 0,679.5 0,679.5 0,683.1 0,679.9 0,679.1 0,680.4 0,677.2 0,680.5 0,681.9 0,681.3 0,681.6 0,679.7 0,682.3 0,678.2 0,678.0 0,683.1 0,681.1 0,681.4 0,675.7 0,673.7 0,681.5 0,678.5 0,677.5 0,683.0 0,680.2 0,681.8 0,679.3 0,681.5 0,682.7 0,680.7 0,679.6 0,681.1 0,675.3 0,675.4 0,681.5 0,678.4 0,676.0 0,676.1 0,679.1 0,679.8 0,685.2 0,682.5 0,675.8 0,677.5 0,680.7 0,679.9 0,682.1 0,682.8 0,678.7 0,677.8 0,676.3 0,671.1 0,680.9 0,674.9 0,676.8 0,683.7 0,676.4 0,676.2 0,681.0 0,685.5 0,684.1 0,683.2 0,677.2 0,685.6 0,676.4 0,682.2 0,678.5 0,681.3 0,670.2 0,674.6 0,679.6 0,679.2 0,673.9 0,672.7 0,681.4 0,678.6 0,682.6 0,679.0 0,684.1 0,679.8 0,682.1 0,676.0 0,677.6 0,678.4 0,681.6 0,682.0 0,678.3 0,676.5 0,678.5 0,675.4 0,675.0 0,678.7 0,678.1 0,675.4 0,681.4 0,679.9 0,687.2 0,680.0 0,677.7 0,675.8 0,673.0 0,679.7 0,677.4 0,684.1 0,674.4 0,677.2 0,675.1 0,681.1 0,673.9 0,678.2 0,675.3 0,677.6 0,679.9 0,677.7 0,680.5 0,681.3 0,683.9 0,678.3 0,677.7 0,682.6 0,675.0 0,676.6 0,678.2 0,682.4 0,676.5 0,679.7 0,672.5 0,677.9 0,674.8 0,679.9 0,680.3 0,677.8 0,673.8 0,677.5 0,677.4 0,683.9 0,680.4 0,681.4 0,674.2 0,680.2 0,677.0 0,681.3 0,678.9 0,682.1 0,678.4 0,676.1 0,679.9 0,670.9 0,679.8 0,682.6 0,680.6 0,669.7 0,688.1"/>
<polyline class="sc" transform="translate(145.67 0)" points="0,659.1 0,673.4 0,678.8 0,682.8 0,663.1 0,680.9 0,684.1 0,672.1 0,673.4 0,681.8 0,666.1 0,665.6 0,680.7 0,672.7 0,672.5 0,686.7 0,671.7 0,668.0 0,684.7 0,676.9 0,671.8 0,673.3 0,671.9 0,673.6 0,669.8 0,680.9 0,664.3 0,675.0 0,667.8 0,669.8 0,677.0 0,659.4 0,678.6 0,679.5 0,673.8 0,678.3 0,667.1 0,680.4 0,666.9 0,671.9 0,681.0 0,673.9 0,668.3 0,667.1 0,669.7 0,665.6 0,680.9 0,684.3 0,662.2 0,668.1 0,668.2 0,668.7 0,666.2 0,679.0 0,664.5 0,672.5 0,660.2 0,673.2 0,669.8 0,674.5 0,670.4 0,674.4 0,674.6 0,675.6 0,670.5 0,661.7 0,675.3 0,673.9 0,670.5 0,677.0 0,668.9 0,670.6 0,658.7 0,669.8 0,672.4 0,672.9 0,677.4 0,670.3 0,666.2 0,669.9 0,664.0 0,666.8 0,678.1 0,675.4 0,669.2 0,675.1 0,675.3 0,673.9 0,663.0 0,666.2 0,672.1 0,662.8 0,674.2 0,673.6 0,677.1 0,665.8 0,673.1 0,676.4 0,684.3 0,661.7 0,662.5 0,663.7 0,672.2 0,668.1 0,673.8 0,674.3 0,678.4 0,671.9 0,679.1 0,678.3 0,670.7 0,674.4 0,669.5 0,681.1 0,670.2 0,670.1 0,676.1 0,676.5 0,661.5 0,676.9 0,659.7 0,671.5 0,678.2 0,676.9 0,677.5 0,678.0 0,670.9 0,674.9 0,665.9 0,667.5 0,665.3 0,671.3 0,672.7 0,671.0 0,679.6 0,682.2 0,667.8 0,671.5 0,670.2 0,677.7 0,677.3 0,678.0 0,668.9 0,673.2 0,665.0 0,676.6 0,664.8 0,673.9 0,666.6 0,677.1 0,665.2 0,681.9 0,666.8 0,671.5 0,677.1 0,667.6 0,677.6 0,676.2 0,676.7 0,662.7 0,671.9 0,666.0 0,674.0 0,670.7 0,672.0 0,679.0 0,676.3 0,669.6 0,667.7 0,663.8 0,681.6 0,662.9 0,687.5 0,672.7 0,680.8 0,672.0 0,679.2 0,657.3 0,672.8 0,659.1 0,683.5 0,674.0 0,689.3 0,678.4 0,678.4 0,688.1 0,677.1 0,671.6 0,668.0 0,667.8 0,670.3 0,667.6 0,670.2 0,687.9 0,670.0 0,683.6 0,669.1 0,663.7 0,665.9 0,672.1 0,682.7 0,668.5 0,672.9 0,666.8 0,678.2 0,676.4 0,673.1 0,673.0 0,662.2 0,667.8 0,682.0 0,675.8 0,671.2 0,676.2 0,673.7 0,676.2 0,668.5 0,670.7 0,668.3 0,668.6 0,682.4 0,679.6 0,667.7 0,669.9 0,666.2 0,674.0 0,667.9 0,669.1 0,678.4 0,664.1 0,667.4 0,671.3 0,667.0 0,670.1 0,669.4 0,671.3 0,656.6 0,667.8 0,676.4 0,655.9 0,678.4 0,680.4 0,668.6 0,676.9 0,682.7 0,681.0 0,673.6 0,667.9 0,684.7 0,681.1 0,684.3 0,669.5 0,685.8 0,662.5 0,675.7 0,666.6 0,672.8 0,674.2 0,679.2 0,680.3 0,685.1 0,664.5 0,672.5 0,666.6 0,670.9 0,659.9 0,678.1 0,669.2 0,665.6 0,662.9 0,680.0 0,675.8 0,676.9 0,676.8 0,666.8 0,667.9 0,677.6 0,678.5 0,673.7 0,679.9 0,685.2 0,668.4 0,671.6 0,669.6 0,680.3 0,669.3 0,674.3 0,672.8 0,687.3 0,670.4 0,664.2 0,660.4 0,667.0 0,662.3 0,666.6 0,669.6 0,675.0 0,673.4 0,667.0 0,671.8 0,654.4 0,675.3 0,679.9 0,672.8 0,668.7 0,662.1 0,686.2 0,679.2 0,669.0 0,669.4 0,675.5 0,676.0 0,664.2 0,683.3 0,669.6 0,670.8 0,670.9 0,679.6 0,687.1 0,662.7 0,670.5 0,670.0 0,671.6 0,673.2 0,687.0 0,680.2 0,665.8 0,649.0 0,651.2 0,695.5"/>
<polyline class="sc" transform="translate(197.09 0)" points="0,664.8 0,654.3 0,654.5 0,669.3 0,654.6 0,662.8 0,649.0 0,651.6 0,658.5 0,662.4 0,657.5 0,664.7 0,661.8 0,651.7 0,681.8 0,665.3 0,659.3 0,661.7 0,670.4 0,655.9 0,654.9 0,673.2 0,666.7 0,660.3 0,662.1 0,670.8 0,660.4 0,644.9 0,664.8 0,650.5 0,655.9 0,653.9 0,659.0 0,649.6 0,674.8 0,663.7 0,656.2 0,676.7 0,655.4 0,663.7 0,661.4 0,664.7 0,665.2 0,662.8 0,652.0 0,668.3 0,684.8 0,670.2 0,660.9 0,662.3 0,670.1 0,653.6 0,673.1 0,666.5 0,657.9 0,654.3 0,672.8 0,662.2 0,661.0 0,671.2 0,667.3 0,661.1 0,657.7 0,649.9 0,666.7 0,673.7 0,658.7 0,656.2 0,671.3 0,661.6 0,668.2 0,658.8 0,664.2 0,674.3 0,663.9 0,655.0 0,658.6 0,659.1 0,660.6 0,660.8 0,659.6 0,659.8 0,657.9 0,660.3 0,652.0 0,645.1 0,656.6 0,660.9 0,657.0 0,672.1 0,656.9 0,674.6 0,687.2 0,657.9 0,671.4 0,647.9 0,656.3 0,646.6 0,671.0 0,655.4 0,663.0 0,670.8 0,670.4 0,652.7 0,661.0 0,673.2 0,641.8 0,656.4 0,645.6 0,668.6 0,651.1 0,663.4 0,677.2 0,677.1 0,655.7 0,666.5 0,671.7 0,661.6 0,674.8 0,662.1 0,662.5 0,651.8 0,669.1 0,660.3 0,668.0 0,683.3 0,672.0 0,645.2 0,659.9 0,664.1 0,670.4 0,676.9 0,668.8 0,671.0 0,658.8 0,680.5 0,668.4 0,667.6 0,658.6 0,656.4 0,648.9 0,667.8 0,678.5 0,660.6 0,682.1 0,671.5 0,667.3 0,674.8 0,659.1 0,657.1 0,669.4 0,654.0 0,675.4 0,666.7 0,650.0 0,658.7 0,658.8 0,649.4 0,650.6 0,658.3 0,669.2 0,669.0 0,658.0 0,676.1 0,669.1 0,650.8 0,669.7 0,639.4 0,659.4 0,669.6 0,658.2 0,658.3 0,657.2 0,667.0 0,684.9 0,667.8 0,664.0 0,662.1 0,675.0 0,664.4 0,678.7 0,659.5 0,662.7 0,653.9 0,664.8 0,674.2 0,656.4 0,666.1 0,653.2 0,639.3 0,660.7 0,653.5 0,685.0 0,663.2 0,665.6 0,662.4 0,662.8 0,667.7 0,666.0 0,663.0 0,682.5 0,667.6 0,652.3 0,647.3 0,658.0 0,666.6 0,686.5 0,662.0 0,663.7 0,650.1 0,676.8 0,669.8 0,675.2 0,673.3 0,666.9 0,649.8 0,653.7 0,650.9 0,661.9 0,668.9 0,671.4 0,656.5 0,669.4 0,643.3 0,654.7 0,655.2 0,656.9 0,647.2 0,665.2 0,651.6 0,669.7 0,656.4 0,655.4 0,670.5 0,678.3 0,647.4 0,665.6 0,659.0 0,655.7 0,657.7 0,654.9 0,670.0 0,672.3 0,658.5 0,655.7 0,678.8 0,648.3 0,670.7 0,662.2 0,676.0 0,675.4 0,658.2 0,665.7 0,673.5 0,673.6 0,658.2 0,667.2 0,669.1 0,651.9 0,657.7 0,659.4 0,667.4 0,659.4 0,658.7 0,663.7 0,649.8 0,678.8 0,662.9 0,658.4 0,670.9 0,645.8 0,648.0 0,655.5 0,665.4 0,659.4 0,666.1 0,666.1 0,673.6 0,664.8 0,678.0 0,659.0 0,668.5 0,666.6 0,657.7 0,665.2 0,669.1 0,663.7 0,656.0 0,668.9 0,668.0 0,654.2 0,661.7 0,646.9 0,659.8 0,637.4 0,640.5 0,674.6 0,671.9 0,679.0 0,641.8 0,648.5 0,654.6 0,677.2 0,681.2 0,654.7 0,676.5 0,656.7 0,660.4 0,672.3 0,683.8 0,659.9 0,669.4 0,656.0 0,668.2 0,657.0 0,659.8 0,673.1 0,661.9 0,667.7 0,675.4 0,657.1 0,656.6 0,666.3 0,661.9 0,672.6 0,674.5 0,674.6 0,654.1 0,683.0 0,652.8 0,651.8 0,630.7 0,632.6 0,634.8 0,691.3"/>
<polyline class="sc" transform="translate(248.51 0)" points="0,657.7 0,646.4 0,651.9 0,646.1 0,658.3 0,659.7 0,636.5 0,649.7 0,645.0 0,652.7 0,624.5 0,668.3 0,651.0 0,645.6 0,651.0 0,646.8 0,657.1 0,646.0 0,637.5 0,627.3 0,631.3 0,657.9 0,651.6 0,652.8 0,650.0 0,669.3 0,673.8 0,651.8 0,639.3 0,678.6 0,665.7 0,648.8 0,661.0 0,636.9 0,664.0 0,665.0 0,655.7 0,637.1 0,629.5 0,676.8 0,639.8 0,639.5 0,640.2 0,655.1 0,656.0 0,620.2 0,630.8 0,641.9 0,661.0 0,626.2 0,637.8 0,656.6 0,634.1 0,655.5 0,663.5 0,620.6 0,650.9 0,645.5 0,677.2 0,660.5 0,669.9 0,640.3 0,619.6 0,634.6 0,660.4 0,640.3 0,652.2 0,627.1 0,656.0 0,661.4 0,654.2 0,621.6 0,651.5 0,637.9 0,629.5 0,643.0 0,660.4 0,658.4 0,641.3 0,657.4 0,651.9 0,629.5 0,652.9 0,664.6 0,635.9 0,627.0 0,653.6 0,649.5 0,641.1 0,661.0 0,648.9 0,646.7 0,654.1 0,644.9 0,664.6 0,663.8 0,654.3 0,652.3 0,647.1 0,659.8 0,661.5 0,636.9 0,680.1 0,655.6 0,650.0 0,623.5 0,640.4 0,634.1 0,660.7 0,647.8 0,641.2 0,628.4 0,653.1 0,626.4 0,632.4 0,634.0 0,663.7 0,650.9 0,632.6 0,620.4 0,646.3 0,668.8 0,650.0 0,632.4 0,636.0 0,652.8 0,627.7 0,637.7 0,653.8 0,626.2 0,634.0 0,636.7 0,638.7 0,678.9 0,644.9 0,646.8 0,633.4 0,641.6 0,669.6 0,663.9 0,653.7 0,645.1 0,646.6 0,650.5 0,657.7 0,653.8 0,629.9 0,671.7 0,655.0 0,649.2 0,666.9 0,629.6 0,641.0 0,653.1 0,637.9 0,647.2 0,672.6 0,660.0 0,657.8 0,653.0 0,661.5 0,674.5 0,655.4 0,653.0 0,626.0 0,624.3 0,647.1 0,625.3 0,642.4 0,643.3 0,623.3 0,644.1 0,663.2 0,665.5 0,612.2 0,678.9 0,648.7 0,644.2 0,667.9 0,654.0 0,648.2 0,643.7 0,666.2 0,645.9 0,643.0 0,648.2 0,620.2 0,666.1 0,634.8 0,633.8 0,643.0 0,643.7 0,659.6 0,635.3 0,644.4 0,632.7 0,656.6 0,679.2 0,654.7 0,640.7 0,656.0 0,652.5 0,630.9 0,620.5 0,628.5 0,657.4 0,646.6 0,659.3 0,663.9 0,631.1 0,637.1 0,633.8 0,646.9 0,647.1 0,643.4 0,629.1 0,650.6 0,649.2 0,632.3 0,630.8 0,647.8 0,675.4 0,643.7 0,657.4 0,662.5 0,666.9 0,657.2 0,647.9 0,656.7 0,655.1 0,659.0 0,656.9 0,634.8 0,658.4 0,639.5 0,680.2 0,679.8 0,659.2 0,652.1 0,637.1 0,612.9 0,638.3 0,648.9 0,624.6 0,662.5 0,636.7 0,637.6 0,634.1 0,648.3 0,668.0 0,652.3 0,658.6 0,639.6 0,656.3 0,670.8 0,652.0 0,645.7 0,652.2 0,644.9 0,666.4 0,630.9 0,616.7 0,648.2 0,660.7 0,634.0 0,657.7 0,646.3 0,653.0 0,655.0 0,654.8 0,654.6 0,642.3 0,650.6 0,624.7 0,676.5 0,625.9 0,640.9 0,628.6 0,657.6 0,625.8 0,636.1 0,671.6 0,682.2 0,639.1 0,671.9 0,645.8 0,637.7 0,659.7 0,656.3 0,630.3 0,638.8 0,661.2 0,675.0 0,645.1 0,642.1 0,650.7 0,654.1 0,644.1 0,675.4 0,624.1 0,646.5 0,643.8 0,656.8 0,664.1 0,638.0 0,634.6 0,670.7 0,640.9 0,639.0 0,652.0 0,626.0 0,647.3 0,663.1 0,666.0 0,654.9 0,640.3 0,631.3 0,655.1 0,647.5 0,649.3 0,629.3 0,657.0 0,644.0 0,651.7 0,674.9 0,658.6 0,656.6 0,645.8 0,632.9 0,650.3 0,676.7 0,655.0 0,637.0 0,640.1 0,650.7 0,652.9 0,642.0 0,604.7 0,608.2 0,685.5"/>
<polyline class="sc" transform="translate(299.93 0)" points="0,579.2 0,591.7 0,633.1 0,643.0 0,606.3 0,633.9 0,635.5 0,651.0 0,672.7 0,650.7 0,627.2 0,640.1 0,629.1 0,633.7 0,594.2 0,635.8 0,615.9 0,643.3 0,637.9 0,658.6 0,661.6 0,658.9 0,590.1 0,609.0 0,630.4 0,614.1 0,668.4 0,637.5 0,671.6 0,619.4 0,639.8 0,597.4 0,650.1 0,610.2 0,638.2 0,610.4 0,600.4 0,637.3 0,634.8 0,641.3 0,612.1 0,654.7 0,654.7 0,623.8 0,612.4 0,660.3 0,642.1 0,591.3 0,629.5 0,602.1 0,644.4 0,645.9 0,649.3 0,579.6 0,593.4 0,617.6 0,651.8 0,627.0 0,599.9 0,634.2 0,656.2 0,647.1 0,620.0 0,613.7 0,608.9 0,629.6 0,598.7 0,649.2 0,623.1 0,650.6 0,625.5 0,621.5 0,629.0 0,632.9 0,643.5 0,638.8 0,629.2 0,616.8 0,658.0 0,652.0 0,615.8 0,602.9 0,614.4 0,628.3 0,647.3 0,612.0 0,618.8 0,620.8 0,604.8 0,628.5 0,633.3 0,615.5 0,649.9 0,631.6 0,619.9 0,624.4 0,606.2 0,621.9 0,651.3 0,584.1 0,613.7 0,599.7 0,601.7 0,625.1 0,636.1 0,623.9 0,595.5 0,670.3 0,619.5 0,606.4 0,622.7 0,618.7 0,598.4 0,596.7 0,627.7 0,635.4 0,611.8 0,640.5 0,635.0 0,626.1 0,630.1 0,629.8 0,647.3 0,629.0 0,604.6 0,598.6 0,621.4 0,623.6 0,615.1 0,648.3 0,626.3 0,630.2 0,584.1 0,610.7 0,588.5 0,620.5 0,651.9 0,634.4 0,630.2 0,632.1 0,657.6 0,609.4 0,634.9 0,592.5 0,645.3 0,647.4 0,596.8 0,611.4 0,632.2 0,622.3 0,668.0 0,668.2 0,634.9 0,665.1 0,640.9 0,615.0 0,626.9 0,656.9 0,615.8 0,650.5 0,647.3 0,588.8 0,663.3 0,606.3 0,625.5 0,630.6 0,631.6 0,599.7 0,659.5 0,641.9 0,634.8 0,649.9 0,588.4 0,604.0 0,642.8 0,641.4 0,626.7 0,631.2 0,645.6 0,639.5 0,612.8 0,623.5 0,612.2 0,625.2 0,657.8 0,659.8 0,663.5 0,646.1 0,599.9 0,631.1 0,605.9 0,638.3 0,614.7 0,619.4 0,587.1 0,642.6 0,635.3 0,624.2 0,631.2 0,631.6 0,657.4 0,612.2 0,644.9 0,597.8 0,634.5 0,654.4 0,652.1 0,627.5 0,617.5 0,583.8 0,612.8 0,606.4 0,594.6 0,627.8 0,626.0 0,584.2 0,652.7 0,666.2 0,671.6 0,613.6 0,620.6 0,621.0 0,639.0 0,663.1 0,644.4 0,618.3 0,614.0 0,631.8 0,596.8 0,625.6 0,666.2 0,621.0 0,647.4 0,658.8 0,629.0 0,655.1 0,631.4 0,656.3 0,624.0 0,593.7 0,651.2 0,624.4 0,618.5 0,641.0 0,633.9 0,586.6 0,627.4 0,589.9 0,665.6 0,659.9 0,618.0 0,602.6 0,630.3 0,642.7 0,629.3 0,596.5 0,620.5 0,613.8 0,652.0 0,612.3 0,635.8 0,599.9 0,668.6 0,619.3 0,624.9 0,634.9 0,645.2 0,651.5 0,604.3 0,616.4 0,647.7 0,593.8 0,588.7 0,608.8 0,658.5 0,620.1 0,630.1 0,672.9 0,611.2 0,614.3 0,610.7 0,626.6 0,651.6 0,675.3 0,614.0 0,594.7 0,625.4 0,631.1 0,636.7 0,641.6 0,618.3 0,619.2 0,649.3 0,628.0 0,611.9 0,648.8 0,620.8 0,637.8 0,660.4 0,590.2 0,634.0 0,637.4 0,611.2 0,616.6 0,614.3 0,630.0 0,623.7 0,611.5 0,654.1 0,589.9 0,632.3 0,597.9 0,648.9 0,634.3 0,641.8 0,656.0 0,638.7 0,614.5 0,609.0 0,622.9 0,595.8 0,668.5 0,600.2 0,625.9 0,648.6 0,614.9 0,620.0 0,638.1 0,615.8 0,613.2 0,650.6 0,610.6 0,626.7 0,612.7 0,644.8 0,620.9 0,665.1 0,627.8 0,631.9 0,584.9 0,617.3 0,649.6 0,570.3"/>
<polyline class="sc" transform="translate(351.35 0)" points="0,609.7 0,632.9 0,632.6 0,616.7 0,583.9 0,628.6 0,594.2 0,556.9 0,559.9 0,647.6 0,588.9 0,662.6 0,616.8 0,608.1 0,596.7 0,621.4 0,637.2 0,638.0 0,645.6 0,611.1 0,607.9 0,580.9 0,622.0 0,666.4 0,592.7 0,584.0 0,573.8 0,616.8 0,628.8 0,630.8 0,593.3 0,606.7 0,604.5 0,609.6 0,632.1 0,600.4 0,606.7 0,588.7 0,592.2 0,601.5 0,575.6 0,562.0 0,589.6 0,605.9 0,585.1 0,614.2 0,594.8 0,624.4 0,632.2 0,592.3 0,624.1 0,604.7 0,611.5 0,597.7 0,605.8 0,612.3 0,610.9 0,598.8 0,594.1 0,585.9 0,604.5 0,607.7 0,603.1 0,659.2 0,634.5 0,613.5 0,640.0 0,591.9 0,612.5 0,607.4 0,607.9 0,575.4 0,592.0 0,632.8 0,595.0 0,624.5 0,624.6 0,646.4 0,588.1 0,591.2 0,629.3 0,607.6 0,645.4 0,642.8 0,661.4 0,645.2 0,618.7 0,623.4 0,611.0 0,567.5 0,649.7 0,584.2 0,623.0 0,581.3 0,652.0 0,626.6 0,648.5 0,596.2 0,607.5 0,600.4 0,595.4 0,618.0 0,602.4 0,648.6 0,585.0 0,645.6 0,592.3 0,630.7 0,637.2 0,609.3 0,600.2 0,598.5 0,599.5 0,612.7 0,625.4 0,608.4 0,612.4 0,624.7 0,582.1 0,568.6 0,642.3 0,632.0 0,613.5 0,611.0 0,619.0 0,597.1 0,600.9 0,616.9 0,620.6 0,648.7 0,651.8 0,631.0 0,597.4 0,577.4 0,586.5 0,605.3 0,603.2 0,597.7 0,632.0 0,588.0 0,587.8 0,611.9 0,613.1 0,590.2 0,566.1 0,624.9 0,588.8 0,623.2 0,655.0 0,598.9 0,602.4 0,628.6 0,570.6 0,565.4 0,600.9 0,641.9 0,575.0 0,602.0 0,629.3 0,618.2 0,594.5 0,616.6 0,641.2 0,628.6 0,639.8 0,607.5 0,608.2 0,597.5 0,661.5 0,616.3 0,626.3 0,600.3 0,650.0 0,560.1 0,619.0 0,581.6 0,612.6 0,570.9 0,611.2 0,582.3 0,629.7 0,647.0 0,629.1 0,613.1 0,583.3 0,604.1 0,611.7 0,619.1 0,567.1 0,589.5 0,623.1 0,557.4 0,647.3 0,597.5 0,652.9 0,585.6 0,623.7 0,591.3 0,553.0 0,612.8 0,612.1 0,639.3 0,627.3 0,653.3 0,612.8 0,570.5 0,595.3 0,580.7 0,600.1 0,657.6 0,591.5 0,639.5 0,624.2 0,602.9 0,611.1 0,622.0 0,597.5 0,607.1 0,581.7 0,552.1 0,620.5 0,642.5 0,598.4 0,603.5 0,627.9 0,603.9 0,604.1 0,609.7 0,610.3 0,632.4 0,587.0 0,609.3 0,613.0 0,642.9 0,614.4 0,624.3 0,610.0 0,606.7 0,637.6 0,638.8 0,612.6 0,609.8 0,572.4 0,606.2 0,609.3 0,650.0 0,610.3 0,587.2 0,646.4 0,623.3 0,655.1 0,618.2 0,571.7 0,577.3 0,651.7 0,630.1 0,601.8 0,642.3 0,653.8 0,661.7 0,628.2 0,578.3 0,619.9 0,588.1 0,597.3 0,607.8 0,598.9 0,654.9 0,595.9 0,622.6 0,638.1 0,664.1 0,616.7 0,595.1 0,583.3 0,620.1 0,630.3 0,631.3 0,607.9 0,620.2 0,566.3 0,607.6 0,583.8 0,660.2 0,559.6 0,580.3 0,606.8 0,637.8 0,559.8 0,578.0 0,633.7 0,571.8 0,598.7 0,588.1 0,641.7 0,628.9 0,613.5 0,609.3 0,607.0 0,628.9 0,633.4 0,627.7 0,640.9 0,624.5 0,602.8 0,590.3 0,598.6 0,637.6 0,591.2 0,603.4 0,587.2 0,598.9 0,596.2 0,627.3 0,586.9 0,616.1 0,591.3 0,617.3 0,628.8 0,665.8 0,634.1 0,629.1 0,591.1 0,638.3 0,586.0 0,593.8 0,611.5 0,607.2 0,629.6 0,638.1 0,639.9 0,618.3 0,591.2 0,614.0 0,563.5 0,595.2 0,626.5 0,630.4 0,643.9 0,613.4 0,566.3 0,589.5 0,630.8 0,609.4 0,661.1 0,603.8 0,611.6 0,528.5 0,538.0 0,541.1 0,544.2 0,546.3 0,549.0 0,672.2 0,675.9"/>
<polyline class="sc" transform="translate(402.77 0)" points="0,658.0 0,589.4 0,621.9 0,620.9 0,602.5 0,589.8 0,571.9 0,652.7 0,560.5 0,624.8 0,634.1 0,562.4 0,578.0 0,518.0 0,566.3 0,553.6 0,633.4 0,608.8 0,646.8 0,573.4 0,627.5 0,548.8 0,573.4 0,566.4 0,572.0 0,510.2 0,617.3 0,574.8 0,634.4 0,616.0 0,582.6 0,585.5 0,547.7 0,612.3 0,556.5 0,546.9 0,557.0 0,641.6 0,550.2 0,567.5 0,589.1 0,595.5 0,572.6 0,534.7 0,582.3 0,550.4 0,612.1 0,589.3 0,568.2 0,605.6 0,607.4 0,582.9 0,580.5 0,621.1 0,524.8 0,571.5 0,516.6 0,554.0 0,520.8 0,584.5 0,544.9 0,550.7 0,575.1 0,614.2 0,551.3 0,557.2 0,626.4 0,584.1 0,536.9 0,584.6 0,569.1 0,580.3 0,560.2 0,602.5 0,541.7 0,524.1 0,579.5 0,611.8 0,590.0 0,625.4 0,554.3 0,610.8 0,517.6 0,577.7 0,566.9 0,556.9 0,658.2 0,595.6 0,569.8 0,589.5 0,530.5 0,654.7 0,556.8 0,594.3 0,583.8 0,604.5 0,595.9 0,649.8 0,592.7 0,560.4 0,607.5 0,550.0 0,597.3 0,582.2 0,610.0 0,624.4 0,612.6 0,626.2 0,594.7 0,625.0 0,599.0 0,556.9 0,532.0 0,536.4 0,606.3 0,618.0 0,592.6 0,634.6 0,601.5 0,605.1 0,587.0 0,612.7 0,559.8 0,631.7 0,535.3 0,624.5 0,564.2 0,612.6 0,592.9 0,620.1 0,542.6 0,581.3 0,594.7 0,562.5 0,605.9 0,567.4 0,604.0 0,599.0 0,571.8 0,588.0 0,546.0 0,533.6 0,592.6 0,609.1 0,590.4 0,563.1 0,571.4 0,547.8 0,602.7 0,614.6 0,615.6 0,615.9 0,619.1 0,564.3 0,537.3 0,536.3 0,592.8 0,638.5 0,625.1 0,601.3 0,572.1 0,576.2 0,556.3 0,592.3 0,571.5 0,607.9 0,624.8 0,595.5 0,567.6 0,597.9 0,657.8 0,571.6 0,619.0 0,598.0 0,582.7 0,601.8 0,574.9 0,595.1 0,604.8 0,550.3 0,546.7 0,595.0 0,567.0 0,557.2 0,610.0 0,625.8 0,566.6 0,515.9 0,587.6 0,644.6 0,566.1 0,631.5 0,593.1 0,586.7 0,563.4 0,573.7 0,541.9 0,540.4 0,586.7 0,600.0 0,561.1 0,529.5 0,524.0 0,588.5 0,543.5 0,525.1 0,552.4 0,579.4 0,614.8 0,542.8 0,613.5 0,523.6 0,529.6 0,563.8 0,572.3 0,579.7 0,627.0 0,597.7 0,553.0 0,626.6 0,604.0 0,590.6 0,610.2 0,604.3 0,543.2 0,539.9 0,541.3 0,579.4 0,631.3 0,535.8 0,583.0 0,578.5 0,585.2 0,586.4 0,627.4 0,604.4 0,565.5 0,591.7 0,571.9 0,580.8 0,583.0 0,578.5 0,615.9 0,619.5 0,545.5 0,564.0 0,616.4 0,571.7 0,564.6 0,577.0 0,558.7 0,583.1 0,607.1 0,581.0 0,593.1 0,581.9 0,598.2 0,596.3 0,596.0 0,540.2 0,604.4 0,578.2 0,621.7 0,550.1 0,562.4 0,592.1 0,623.6 0,607.3 0,557.4 0,546.4 0,603.2 0,654.2 0,627.9 0,576.6 0,547.2 0,577.2 0,520.7 0,630.9 0,540.0 0,526.3 0,611.7 0,579.9 0,512.2 0,552.5 0,583.3 0,542.9 0,562.2 0,603.3 0,546.0 0,616.0 0,594.4 0,602.2 0,572.7 0,540.0 0,551.3 0,537.9 0,638.2 0,599.4 0,638.2 0,532.5 0,628.3 0,588.9 0,523.7 0,631.9 0,523.3 0,628.9 0,520.2 0,553.1 0,576.1 0,643.6 0,602.6 0,605.5 0,577.1 0,564.8 0,600.1 0,563.4 0,594.1 0,572.5 0,645.2 0,559.5 0,562.1 0,590.5 0,610.6 0,599.4 0,568.1 0,600.8 0,557.1 0,546.4 0,590.8 0,594.9 0,586.7 0,578.1 0,602.9 0,574.1 0,610.2 0,570.1 0,563.1 0,575.7 0,601.2 0,630.8 0,593.3 0,591.5 0,586.7 0,561.8 0,515.9 0,581.9 0,552.0 0,571.1 0,610.1 0,582.1 0,578.0 0,568.0 0,598.0 0,592.7 0,633.3 0,482.6 0,497.5 0,499.0 0,501.7 0,508.9"/>
<polyline class="sc" transform="translate(454.19 0)" points="0,603.7 0,539.3 0,589.5 0,590.7 0,587.2 0,564.3 0,519.5 0,599.3 0,589.5 0,508.1 0,591.2 0,513.8 0,628.0 0,595.4 0,494.6 0,635.8 0,624.4 0,597.8 0,577.6 0,541.5 0,614.0 0,576.2 0,544.4 0,523.9 0,624.0 0,548.4 0,564.6 0,526.1 0,523.7 0,592.3 0,573.5 0,542.0 0,559.6 0,498.7 0,580.1 0,532.0 0,622.4 0,618.5 0,602.1 0,611.1 0,574.0 0,522.8 0,507.2 0,572.6 0,592.2 0,538.9 0,590.2 0,578.7 0,603.7 0,643.2 0,478.6 0,555.2 0,635.1 0,567.8 0,575.4 0,583.9 0,555.7 0,521.1 0,586.2 0,593.1 0,533.3 0,532.6 0,565.3 0,613.4 0,564.0 0,609.1 0,594.9 0,574.0 0,512.0 0,513.3 0,515.2 0,532.1 0,548.8 0,578.1 0,516.3 0,582.0 0,468.4 0,564.9 0,490.3 0,620.9 0,515.8 0,538.7 0,548.4 0,562.5 0,612.1 0,570.6 0,574.0 0,591.9 0,604.4 0,563.0 0,549.5 0,554.5 0,605.4 0,604.3 0,553.6 0,564.4 0,589.6 0,583.9 0,547.1 0,574.6 0,536.6 0,522.8 0,516.2 0,538.5 0,569.8 0,632.6 0,601.5 0,519.3 0,577.2 0,607.0 0,618.5 0,561.2 0,577.6 0,544.0 0,529.6 0,549.2 0,553.0 0,583.2 0,487.1 0,557.7 0,620.8 0,627.9 0,569.5 0,555.7 0,596.4 0,549.9 0,606.4 0,640.9 0,577.9 0,615.1 0,568.4 0,571.2 0,606.8 0,613.4 0,557.2 0,552.4 0,583.7 0,580.9 0,484.7 0,547.0 0,542.1 0,559.3 0,594.6 0,477.2 0,572.1 0,575.2 0,583.3 0,592.5 0,476.8 0,571.7 0,576.8 0,518.9 0,549.9 0,588.6 0,556.0 0,592.5 0,601.7 0,504.1 0,598.6 0,552.2 0,598.2 0,509.8 0,547.4 0,556.7 0,632.4 0,557.3 0,560.5 0,521.2 0,557.2 0,647.4 0,542.1 0,582.4 0,549.8 0,560.5 0,575.8 0,559.5 0,559.7 0,549.9 0,579.1 0,599.8 0,490.6 0,536.0 0,521.3 0,537.8 0,578.3 0,601.6 0,623.2 0,588.4 0,568.6 0,557.2 0,592.4 0,620.0 0,560.4 0,570.0 0,576.8 0,557.0 0,604.2 0,626.4 0,543.7 0,550.0 0,594.3 0,559.1 0,598.3 0,594.3 0,561.1 0,578.2 0,515.7 0,608.9 0,549.5 0,585.4 0,566.5 0,539.2 0,525.4 0,580.6 0,581.2 0,603.0 0,624.1 0,582.3 0,580.1 0,495.1 0,560.7 0,609.9 0,549.8 0,577.7 0,546.8 0,633.3 0,528.2 0,550.2 0,558.1 0,574.7 0,545.8 0,535.4 0,557.9 0,530.8 0,594.0 0,551.1 0,565.8 0,613.6 0,550.2 0,512.3 0,531.2 0,495.7 0,567.6 0,587.3 0,541.0 0,518.6 0,601.4 0,637.2 0,586.7 0,480.2 0,523.4 0,575.6 0,535.3 0,549.6 0,525.6 0,542.9 0,643.7 0,514.2 0,494.4 0,559.9 0,540.4 0,571.1 0,534.6 0,599.9 0,510.2 0,543.9 0,614.8 0,517.8 0,597.4 0,521.7 0,469.8 0,525.8 0,621.6 0,619.0 0,579.4 0,530.3 0,567.6 0,554.0 0,585.6 0,563.4 0,615.9 0,572.6 0,532.1 0,528.4 0,488.8 0,609.7 0,592.7 0,592.9 0,501.9 0,529.8 0,532.6 0,581.6 0,578.4 0,579.0 0,500.0 0,625.6 0,641.0 0,572.7 0,472.9 0,592.4 0,570.5 0,641.9 0,519.2 0,585.7 0,524.5 0,552.0 0,613.5 0,527.8 0,590.0 0,591.0 0,469.1 0,534.9 0,562.8 0,559.7 0,506.5 0,612.6 0,531.4 0,565.0 0,533.3 0,524.5 0,599.7 0,595.4 0,641.0 0,562.3 0,541.5 0,596.9 0,563.2 0,552.9 0,521.5 0,491.4 0,509.0 0,565.7 0,599.6 0,550.4 0,590.6 0,587.6 0,525.9 0,542.8 0,517.1 0,604.5 0,629.7 0,551.7 0,535.7 0,616.0 0,558.8 0,648.3 0,593.7 0,494.7 0,513.8 0,553.0 0,644.5 0,542.5 0,598.4 0,506.9 0,481.9 0,504.2 0,549.7 0,540.3 0,532.5 0,615.9 0,526.3 0,568.0 0,582.6 0,448.3 0,452.9 0,457.0 0,461.2 0,463.2 0,465.3"/>
<g shape-rendering="crispEdges" fill="none" stroke-width="1">
<path d="M94.5 677.5V670.5M94.5 687.5V681.5" stroke="#000" stroke-dasharray="10.4 5.6"/>
<path d="M88 670.5H100M88 687.5H100" stroke="#000"/>
<rect x="83.5" y="677.5" width="21" height="4" stroke="#0000ff"/>
<path d="M83 679.5H105" stroke="#ff0000"/>
</g>
<g shape-rendering="crispEdges" fill="none" stroke-width="1">
<path d="M145.5 668.5V654.5M145.5 689.5V677.5" stroke="#000" stroke-dasharray="10.4 5.6"/>
<path d="M140 654.5H151M140 689.5H151" stroke="#000"/>
<rect x="135.5" y="668.5" width="20" height="9" stroke="#0000ff"/>
<path d="M135 672.5H156" stroke="#ff0000"/>
</g>
<g shape-rendering="crispEdges" fill="none" stroke-width="1">
<path d="M196.5 656.5V637.5M196.5 687.5V669.5" stroke="#000" stroke-dasharray="10.4 5.6"/>
<path d="M191 637.5H203M191 687.5H203" stroke="#000"/>
<rect x="186.5" y="656.5" width="21" height="13" stroke="#0000ff"/>
<path d="M186 662.5H208" stroke="#ff0000"/>
</g>
<g shape-rendering="crispEdges" fill="none" stroke-width="1">
<path d="M248.5 639.5V612.5M248.5 682.5V657.5" stroke="#000" stroke-dasharray="10.4 5.6"/>
<path d="M243 612.5H254M243 682.5H254" stroke="#000"/>
<rect x="238.5" y="639.5" width="20" height="18" stroke="#0000ff"/>
<path d="M238 648.5H259" stroke="#ff0000"/>
</g>
<g shape-rendering="crispEdges" fill="none" stroke-width="1">
<path d="M299.5 616.5V579.5M299.5 675.5V643.5" stroke="#000" stroke-dasharray="10.4 5.6"/>
<path d="M294 579.5H305M294 675.5H305" stroke="#000"/>
<rect x="289.5" y="616.5" width="21" height="27" stroke="#0000ff"/>
<path d="M289 630.5H311" stroke="#ff0000"/>
</g>
<g shape-rendering="crispEdges" fill="none" stroke-width="1">
<path d="M351.5 596.5V552.5M351.5 666.5V626.5" stroke="#000" stroke-dasharray="10.4 5.6"/>
<path d="M346 552.5H357M346 666.5H357" stroke="#000"/>
<rect x="340.5" y="596.5" width="21" height="30" stroke="#0000ff"/>
<path d="M340 611.5H362" stroke="#ff0000"/>
</g>
<g shape-rendering="crispEdges" fill="none" stroke-width="1">
<path d="M402.5 564.5V510.5M402.5 658.5V605.5" stroke="#000" stroke-dasharray="10.4 5.6"/>
<path d="M397 510.5H408M397 658.5H408" stroke="#000"/>
<rect x="392.5" y="564.5" width="20" height="41" stroke="#0000ff"/>
<path d="M392 585.5H413" stroke="#ff0000"/>
</g>
<g shape-rendering="crispEdges" fill="none" stroke-width="1">
<path d="M454.5 539.5V468.5M454.5 648.5V587.5" stroke="#000" stroke-dasharray="10.4 5.6"/>
<path d="M448 468.5H460M448 648.5H460" stroke="#000"/>
<rect x="443.5" y="539.5" width="21" height="48" stroke="#0000ff"/>
<path d="M443 565.5H465" stroke="#ff0000"/>
</g>
<path d="M68.5 681.5H479.5" stroke="#000" stroke-width="1" stroke-dasharray="9 2 3 2" stroke-dashoffset="5.3" fill="none" shape-rendering="crispEdges"/>
<path d="M94.5 751v-5M94.5 429v5M145.5 751v-5M145.5 429v5M196.5 751v-5M196.5 429v5M248.5 751v-5M248.5 429v5M299.5 751v-5M299.5 429v5M351.5 751v-5M351.5 429v5M402.5 751v-5M402.5 429v5M454.5 751v-5M454.5 429v5M68 734.5h5M480 734.5h-5M68 692.5h5M480 692.5h-5M68 651.5h5M480 651.5h-5M68 610.5h5M480 610.5h-5M68 569.5h5M480 569.5h-5M68 528.5h5M480 528.5h-5M68 487.5h5M480 487.5h-5M68 446.5h5M480 446.5h-5" stroke="#262626" stroke-width="1" fill="none" shape-rendering="crispEdges"/>
<rect x="68.5" y="429.5" width="411" height="321" stroke="#262626" stroke-width="1" fill="none" shape-rendering="crispEdges"/>
<g font-size="15.6" fill="#262626" stroke="#262626" stroke-width="0.25">
<text x="93.6" y="770.7" text-anchor="middle">0.1</text>
<text x="145.02" y="770.7" text-anchor="middle">0.2</text>
<text x="196.44" y="770.7" text-anchor="middle">0.3</text>
<text x="247.86" y="770.7" text-anchor="middle">0.4</text>
<text x="299.28" y="770.7" text-anchor="middle">0.5</text>
<text x="350.7" y="770.7" text-anchor="middle">0.6</text>
<text x="402.12" y="770.7" text-anchor="middle">0.7</text>
<text x="453.54" y="770.7" text-anchor="middle">0.8</text>
<text x="63" y="739.34" text-anchor="end">2.5</text>
<text x="63" y="698.18" text-anchor="end">3</text>
<text x="63" y="657.03" text-anchor="end">3.5</text>
<text x="63" y="615.88" text-anchor="end">4</text>
<text x="63" y="574.72" text-anchor="end">4.5</text>
<text x="63" y="533.57" text-anchor="end">5</text>
<text x="63" y="492.42" text-anchor="end">5.5</text>
<text x="63" y="451.26" text-anchor="end">6</text>
</g>
<text transform="translate(221.2 791.4) scale(1 0.98)" font-size="16.6" fill="#262626" stroke="#262626" stroke-width="0.2" textLength="93.3">std/med of v</text>
<text x="319.5" y="799.7" font-size="14" fill="#262626">c</text>
<g stroke="#000" stroke-width="0.3">
<text x="88.8" y="457.7" font-size="17.6" fill="#000">v</text>
<text x="97.7" y="466.6" font-size="14" fill="#000">c</text>
<text x="110" y="457.7" font-size="17.6" fill="#000" textLength="123.2">from log-normal</text>
</g>
<g transform="translate(27.8 685.6) rotate(-90)" fill="#262626" stroke="#262626" stroke-width="0.25">
<text x="0" y="0" font-size="19" textLength="147" lengthAdjust="spacingAndGlyphs">estimated values, v</text>
<text x="147.6" y="-7.6" font-size="15.2" textLength="43.8" lengthAdjust="spacingAndGlyphs">(m,est)</text>
<text x="147.8" y="7.9" font-size="14">c</text>
</g>
</g>
<g id="panel4">
<g stroke="#262626" stroke-opacity="0.15" stroke-width="1" fill="none" shape-rendering="crispEdges"><path d="M613.5 429.5V750.5M665.5 429.5V750.5M716.5 429.5V750.5M768.5 429.5V750.5M819.5 429.5V750.5M870.5 429.5V750.5M922.5 429.5V750.5M973.5 429.5V750.5"/><path d="M588.5 734.5H999.5M588.5 692.5H999.5M588.5 651.5H999.5M588.5 610.5H999.5M588.5 569.5H999.5M588.5 528.5H999.5M588.5 487.5H999.5M588.5 446.5H999.5"/></g>
<polyline class="sc" transform="translate(613.93 0)" points="0,684.5 0,681.7 0,687.5 0,679.8 0,677.1 0,678.6 0,680.9 0,682.8 0,683.8 0,682.3 0,682.9 0,677.7 0,682.4 0,679.0 0,679.1 0,678.4 0,678.1 0,681.5 0,681.6 0,680.5 0,682.9 0,679.2 0,679.6 0,679.5 0,681.3 0,677.6 0,682.8 0,681.9 0,679.7 0,680.1 0,680.2 0,685.7 0,679.1 0,682.5 0,685.5 0,682.6 0,680.6 0,684.3 0,682.4 0,679.9 0,682.2 0,680.6 0,681.8 0,680.8 0,679.3 0,683.9 0,687.4 0,680.7 0,682.5 0,679.4 0,681.2 0,682.9 0,683.2 0,678.2 0,685.3 0,680.8 0,686.1 0,685.1 0,680.8 0,681.0 0,682.0 0,683.4 0,683.1 0,682.2 0,681.7 0,681.3 0,680.3 0,680.2 0,681.0 0,678.7 0,677.7 0,679.9 0,680.0 0,679.1 0,683.0 0,681.0 0,678.6 0,682.1 0,679.6 0,682.3 0,687.2 0,683.4 0,679.9 0,680.8 0,683.6 0,680.5 0,678.2 0,682.2 0,681.4 0,678.6 0,680.8 0,679.0 0,682.5 0,682.2 0,680.4 0,685.6 0,680.2 0,678.2 0,680.5 0,680.0 0,682.6 0,683.9 0,682.9 0,675.8 0,680.7 0,676.9 0,679.0 0,682.6 0,681.7 0,682.2 0,682.3 0,683.5 0,678.6 0,680.2 0,681.8 0,678.3 0,682.8 0,684.0 0,681.1 0,678.1 0,682.2 0,678.2 0,679.5 0,681.3 0,686.7 0,680.1 0,677.9 0,682.9 0,675.9 0,682.4 0,679.1 0,681.1 0,680.2 0,680.2 0,683.4 0,679.0 0,683.6 0,681.0 0,684.6 0,681.6 0,681.2 0,683.0 0,684.5 0,684.1 0,682.2 0,683.6 0,682.5 0,681.9 0,678.4 0,679.6 0,682.9 0,679.9 0,680.9 0,682.3 0,680.7 0,678.2 0,683.8 0,680.6 0,681.0 0,680.2 0,676.1 0,681.8 0,679.6 0,684.6 0,678.9 0,685.4 0,681.8 0,682.7 0,679.1 0,680.7 0,682.7 0,676.9 0,682.3 0,681.2 0,684.8 0,680.8 0,680.7 0,681.1 0,685.0 0,677.6 0,679.6 0,675.3 0,682.4 0,682.2 0,683.6 0,679.6 0,679.8 0,681.7 0,678.7 0,680.7 0,680.7 0,680.2 0,680.2 0,678.1 0,683.3 0,680.9 0,680.2 0,679.4 0,678.5 0,679.7 0,683.4 0,681.9 0,677.6 0,679.3 0,679.3 0,677.6 0,679.2 0,678.6 0,679.5 0,681.5 0,677.8 0,676.2 0,680.5 0,680.4 0,679.1 0,683.4 0,679.4 0,681.0 0,678.6 0,679.0 0,678.0 0,679.3 0,683.5 0,682.3 0,680.4 0,679.9 0,680.1 0,682.9 0,679.1 0,681.9 0,683.1 0,679.6 0,676.9 0,682.5 0,678.1 0,680.4 0,685.8 0,679.0 0,678.9 0,687.5 0,681.3 0,680.9 0,680.3 0,682.2 0,681.4 0,683.1 0,683.3 0,682.3 0,680.8 0,678.9 0,684.3 0,679.4 0,677.7 0,681.0 0,680.6 0,682.2 0,685.7 0,682.1 0,677.9 0,678.9 0,681.0 0,679.2 0,679.4 0,678.9 0,680.0 0,681.0 0,683.0 0,679.1 0,683.7 0,678.8 0,677.1 0,681.6 0,677.3 0,679.7 0,677.8 0,680.1 0,678.6 0,676.2 0,682.0 0,679.6 0,678.5 0,680.1 0,681.7 0,679.0 0,684.6 0,682.4 0,678.5 0,684.1 0,681.9 0,677.3 0,682.5 0,685.0 0,679.9 0,685.5 0,681.7 0,682.1 0,681.4 0,685.4 0,681.1 0,680.3 0,678.3 0,681.2 0,683.6 0,679.3 0,679.5 0,681.3 0,679.6 0,682.7 0,679.1 0,683.5 0,681.2 0,681.7 0,682.6 0,683.2 0,680.2 0,682.0 0,681.3 0,677.1 0,679.5 0,681.8 0,679.5 0,680.1 0,674.4 0,688.6"/>
<polyline class="sc" transform="translate(665.36 0)" points="0,680.1 0,686.6 0,688.1 0,689.2 0,676.3 0,686.5 0,688.1 0,674.0 0,672.2 0,676.4 0,677.3 0,675.0 0,685.2 0,688.1 0,685.4 0,683.9 0,690.0 0,677.9 0,688.7 0,683.4 0,686.5 0,677.8 0,671.6 0,680.2 0,683.5 0,683.9 0,680.8 0,677.8 0,677.4 0,683.1 0,680.7 0,686.2 0,683.6 0,680.3 0,677.5 0,677.3 0,679.4 0,675.7 0,677.9 0,675.7 0,683.7 0,681.4 0,683.6 0,689.0 0,688.2 0,690.1 0,687.8 0,684.8 0,684.1 0,684.9 0,681.2 0,689.3 0,682.4 0,675.3 0,688.0 0,683.4 0,687.7 0,679.4 0,684.4 0,680.5 0,677.8 0,685.8 0,675.3 0,674.9 0,671.1 0,676.1 0,684.4 0,679.2 0,687.2 0,681.5 0,689.1 0,687.2 0,676.2 0,682.6 0,684.9 0,686.3 0,676.3 0,674.1 0,682.9 0,677.7 0,685.8 0,678.7 0,679.3 0,677.4 0,689.6 0,681.1 0,677.1 0,681.3 0,680.2 0,685.5 0,681.0 0,677.8 0,683.1 0,691.1 0,675.8 0,684.6 0,686.5 0,673.4 0,676.8 0,677.2 0,674.5 0,683.9 0,684.1 0,680.8 0,669.5 0,688.8 0,678.3 0,684.8 0,686.5 0,684.9 0,677.4 0,684.1 0,681.1 0,679.3 0,673.9 0,687.6 0,683.5 0,676.6 0,686.7 0,686.8 0,681.2 0,677.4 0,684.5 0,675.2 0,682.7 0,680.9 0,679.0 0,672.0 0,669.7 0,677.0 0,674.7 0,683.8 0,680.6 0,684.8 0,680.6 0,680.0 0,688.7 0,681.8 0,679.6 0,679.0 0,683.3 0,680.6 0,681.9 0,676.6 0,681.3 0,679.8 0,684.8 0,686.0 0,685.6 0,679.0 0,680.3 0,682.4 0,678.3 0,681.6 0,684.0 0,680.1 0,684.4 0,686.0 0,680.2 0,685.7 0,681.9 0,681.6 0,681.6 0,685.8 0,677.3 0,680.0 0,683.5 0,685.7 0,686.8 0,685.4 0,685.3 0,679.9 0,680.0 0,684.1 0,682.0 0,680.5 0,685.7 0,687.5 0,677.7 0,679.1 0,679.2 0,681.4 0,677.1 0,681.0 0,682.2 0,691.2 0,673.5 0,680.9 0,679.2 0,673.7 0,681.1 0,678.3 0,671.2 0,677.1 0,684.0 0,677.3 0,674.5 0,675.9 0,682.4 0,686.9 0,676.4 0,683.6 0,682.6 0,680.3 0,685.7 0,671.9 0,675.7 0,688.3 0,677.3 0,684.0 0,674.7 0,689.2 0,672.9 0,674.2 0,679.9 0,678.9 0,674.7 0,682.1 0,685.8 0,678.3 0,678.3 0,681.0 0,681.6 0,683.9 0,689.9 0,681.1 0,672.3 0,681.8 0,680.2 0,682.7 0,681.0 0,682.9 0,687.3 0,685.3 0,680.5 0,689.8 0,682.0 0,676.9 0,678.4 0,684.4 0,681.1 0,689.0 0,680.6 0,682.9 0,678.3 0,680.7 0,679.0 0,677.4 0,675.0 0,685.6 0,680.9 0,677.7 0,684.5 0,681.9 0,673.0 0,686.5 0,683.8 0,689.2 0,692.3 0,675.2 0,686.6 0,685.7 0,684.0 0,677.4 0,682.5 0,686.3 0,677.5 0,679.2 0,678.4 0,687.0 0,677.1 0,682.8 0,687.8 0,676.9 0,687.5 0,687.9 0,674.4 0,685.5 0,683.0 0,677.7 0,687.2 0,678.9 0,675.9 0,674.6 0,674.4 0,684.1 0,687.9 0,686.2 0,680.4 0,678.9 0,683.3 0,683.2 0,681.3 0,676.6 0,687.9 0,688.4 0,688.0 0,681.1 0,682.6 0,679.8 0,683.1 0,674.3 0,673.0 0,681.7 0,679.3 0,684.0 0,677.4 0,681.7 0,681.4 0,683.4 0,681.9 0,680.6 0,680.9 0,679.4 0,678.9 0,682.2 0,674.4 0,680.7 0,673.6 0,676.1 0,682.8 0,685.1 0,682.9 0,681.3 0,667.6 0,694.8"/>
<polyline class="sc" transform="translate(716.79 0)" points="0,685.4 0,679.2 0,681.8 0,684.3 0,685.9 0,683.7 0,681.3 0,692.2 0,694.6 0,679.0 0,687.1 0,691.2 0,672.8 0,684.2 0,672.9 0,683.9 0,671.7 0,684.6 0,676.6 0,687.7 0,677.5 0,685.0 0,680.1 0,677.4 0,689.2 0,672.7 0,669.5 0,697.1 0,688.6 0,672.8 0,683.7 0,685.3 0,675.2 0,680.9 0,694.0 0,681.6 0,686.5 0,673.1 0,683.7 0,684.2 0,677.2 0,676.0 0,686.5 0,679.1 0,695.2 0,692.8 0,683.9 0,682.3 0,668.9 0,674.8 0,690.3 0,689.3 0,674.5 0,681.0 0,692.0 0,679.6 0,693.6 0,687.7 0,690.3 0,672.3 0,685.6 0,676.9 0,683.2 0,688.6 0,682.1 0,683.4 0,685.1 0,683.4 0,678.2 0,688.1 0,668.5 0,692.8 0,689.5 0,683.5 0,676.9 0,680.3 0,689.1 0,679.0 0,688.0 0,669.4 0,692.9 0,688.3 0,679.1 0,681.1 0,677.9 0,687.3 0,673.6 0,673.7 0,688.8 0,691.0 0,682.7 0,678.1 0,682.6 0,670.2 0,691.2 0,670.8 0,678.1 0,683.4 0,673.1 0,680.8 0,688.7 0,683.8 0,679.2 0,676.6 0,681.7 0,682.3 0,685.8 0,691.1 0,676.2 0,685.6 0,673.0 0,677.6 0,679.6 0,690.6 0,690.1 0,683.4 0,685.1 0,681.1 0,682.0 0,682.8 0,684.5 0,673.7 0,678.4 0,676.1 0,690.3 0,688.0 0,668.8 0,669.1 0,684.1 0,684.0 0,668.5 0,685.2 0,681.8 0,680.6 0,670.1 0,689.1 0,669.9 0,681.4 0,673.5 0,688.4 0,687.6 0,687.8 0,684.0 0,687.7 0,687.9 0,685.3 0,694.0 0,686.5 0,680.1 0,685.3 0,676.1 0,681.0 0,685.4 0,687.6 0,698.3 0,677.1 0,680.9 0,681.3 0,686.7 0,689.0 0,687.7 0,692.6 0,679.1 0,690.8 0,683.5 0,692.6 0,678.1 0,692.8 0,680.9 0,689.6 0,683.2 0,670.3 0,671.8 0,679.5 0,679.8 0,685.3 0,690.6 0,671.2 0,681.9 0,676.2 0,687.8 0,670.0 0,689.3 0,687.1 0,691.7 0,690.5 0,680.1 0,685.7 0,677.7 0,674.3 0,680.2 0,690.1 0,686.0 0,685.4 0,682.1 0,672.7 0,686.0 0,673.4 0,678.9 0,682.8 0,688.8 0,685.6 0,692.7 0,680.6 0,676.0 0,682.9 0,686.8 0,686.0 0,688.8 0,688.7 0,685.8 0,685.9 0,674.3 0,678.7 0,679.2 0,684.0 0,683.7 0,690.3 0,680.6 0,684.4 0,676.8 0,683.8 0,688.3 0,675.6 0,687.6 0,684.5 0,678.2 0,691.8 0,674.4 0,679.6 0,688.5 0,689.4 0,679.6 0,685.0 0,667.7 0,680.8 0,689.3 0,685.8 0,672.8 0,692.4 0,685.2 0,689.7 0,688.6 0,666.4 0,675.6 0,675.3 0,682.5 0,677.3 0,677.9 0,686.9 0,677.4 0,679.1 0,687.7 0,686.7 0,681.9 0,687.4 0,687.6 0,684.1 0,681.4 0,687.6 0,676.2 0,687.4 0,680.5 0,677.5 0,683.6 0,688.4 0,670.5 0,686.8 0,685.8 0,680.1 0,688.2 0,682.4 0,687.2 0,692.0 0,680.5 0,668.9 0,689.5 0,676.7 0,684.0 0,673.8 0,686.8 0,675.7 0,684.7 0,671.3 0,682.1 0,690.4 0,684.9 0,687.7 0,681.8 0,674.8 0,684.5 0,674.0 0,678.3 0,679.1 0,696.9 0,680.8 0,691.3 0,688.7 0,679.6 0,679.1 0,680.7 0,684.8 0,688.9 0,680.6 0,685.1 0,676.3 0,685.8 0,668.5 0,673.3 0,671.5 0,683.0 0,675.6 0,689.2 0,684.4 0,679.4 0,673.5 0,687.5 0,689.2 0,688.9 0,693.8 0,677.1 0,681.6 0,669.3 0,691.2 0,692.0 0,673.9 0,659.7 0,662.0 0,664.2 0,700.5 0,703.6"/>
<polyline class="sc" transform="translate(768.22 0)" points="0,702.5 0,669.9 0,698.7 0,674.4 0,671.2 0,685.9 0,695.9 0,695.7 0,671.6 0,694.1 0,679.7 0,699.9 0,685.8 0,695.2 0,661.7 0,697.0 0,679.8 0,683.4 0,659.3 0,674.3 0,701.1 0,675.1 0,682.0 0,692.2 0,701.8 0,692.3 0,679.8 0,679.2 0,695.8 0,681.2 0,681.5 0,676.3 0,675.8 0,666.5 0,675.5 0,676.8 0,686.4 0,678.6 0,676.9 0,673.4 0,685.5 0,686.2 0,686.4 0,693.1 0,682.7 0,684.7 0,676.7 0,675.6 0,692.6 0,679.1 0,690.4 0,679.8 0,663.1 0,696.0 0,677.5 0,665.6 0,678.8 0,689.5 0,684.7 0,695.4 0,674.6 0,679.4 0,677.3 0,689.3 0,682.9 0,698.4 0,675.9 0,693.2 0,691.6 0,674.4 0,686.4 0,679.9 0,692.1 0,685.7 0,686.5 0,678.3 0,666.5 0,687.2 0,673.8 0,671.0 0,672.2 0,695.9 0,678.8 0,694.1 0,681.7 0,682.5 0,665.2 0,696.1 0,675.9 0,694.0 0,687.4 0,670.8 0,701.0 0,686.4 0,677.1 0,674.3 0,696.8 0,672.9 0,688.9 0,671.0 0,680.5 0,673.1 0,671.9 0,675.3 0,676.5 0,681.0 0,681.6 0,686.0 0,679.7 0,688.6 0,691.6 0,674.6 0,695.1 0,676.0 0,680.6 0,676.0 0,685.0 0,681.7 0,690.4 0,673.6 0,660.5 0,676.6 0,691.5 0,694.4 0,676.7 0,696.0 0,682.3 0,689.6 0,681.2 0,682.6 0,692.1 0,669.0 0,672.3 0,700.5 0,674.6 0,686.1 0,678.1 0,667.9 0,677.5 0,694.9 0,665.1 0,672.2 0,682.6 0,681.0 0,687.7 0,687.4 0,687.2 0,684.2 0,685.6 0,695.7 0,690.5 0,674.2 0,687.0 0,679.5 0,694.8 0,693.3 0,687.6 0,700.6 0,675.2 0,674.2 0,674.4 0,675.9 0,676.0 0,675.4 0,680.3 0,675.4 0,683.9 0,670.7 0,693.3 0,676.8 0,681.4 0,691.3 0,687.3 0,680.7 0,686.7 0,683.6 0,692.9 0,682.9 0,676.4 0,667.5 0,674.9 0,680.7 0,667.9 0,672.2 0,681.6 0,690.3 0,667.3 0,673.3 0,683.9 0,688.9 0,675.1 0,674.2 0,673.2 0,671.0 0,674.2 0,668.9 0,699.5 0,677.9 0,679.3 0,685.7 0,687.4 0,663.7 0,683.5 0,686.3 0,668.0 0,661.4 0,669.3 0,667.2 0,676.1 0,696.5 0,680.0 0,670.4 0,697.2 0,680.3 0,702.1 0,669.1 0,690.4 0,673.1 0,682.1 0,689.1 0,684.7 0,671.6 0,668.5 0,678.8 0,669.6 0,688.0 0,683.8 0,677.2 0,673.6 0,680.5 0,681.3 0,694.5 0,692.4 0,689.6 0,670.4 0,674.0 0,679.3 0,686.1 0,678.3 0,673.6 0,678.4 0,681.0 0,689.5 0,683.9 0,687.9 0,677.5 0,678.1 0,669.5 0,678.3 0,664.8 0,680.6 0,672.9 0,687.3 0,698.6 0,673.9 0,672.0 0,681.8 0,687.0 0,682.6 0,687.1 0,679.8 0,686.5 0,680.5 0,691.6 0,668.5 0,700.9 0,685.5 0,677.9 0,689.2 0,660.7 0,682.5 0,681.3 0,670.4 0,686.5 0,679.8 0,673.9 0,686.6 0,692.1 0,680.6 0,679.4 0,685.6 0,683.6 0,700.4 0,677.8 0,691.0 0,700.6 0,702.2 0,675.9 0,671.9 0,684.3 0,701.1 0,678.7 0,690.8 0,673.3 0,681.2 0,675.8 0,668.6 0,682.0 0,674.6 0,690.9 0,684.1 0,676.5 0,691.0 0,686.5 0,682.6 0,685.5 0,690.2 0,678.4 0,686.6 0,666.6 0,685.8 0,668.3 0,691.7 0,677.2 0,681.0 0,677.5 0,686.4 0,678.3 0,696.7 0,693.7 0,664.6 0,680.6 0,675.5 0,691.1 0,688.9 0,684.4 0,676.6 0,677.7 0,689.6 0,670.2 0,652.6 0,655.0 0,657.2"/>
<polyline class="sc" transform="translate(819.65 0)" points="0,671.9 0,694.2 0,682.7 0,687.3 0,673.3 0,684.1 0,679.6 0,689.8 0,685.2 0,684.8 0,693.1 0,663.4 0,684.2 0,687.0 0,679.8 0,696.5 0,679.0 0,693.0 0,681.6 0,670.6 0,689.4 0,680.0 0,680.6 0,678.1 0,679.6 0,688.9 0,686.9 0,685.0 0,675.3 0,673.5 0,655.3 0,673.0 0,689.1 0,691.6 0,671.8 0,703.5 0,675.9 0,680.1 0,687.9 0,678.4 0,674.5 0,695.1 0,685.6 0,685.0 0,698.1 0,662.3 0,677.7 0,688.2 0,676.2 0,692.8 0,682.0 0,691.1 0,682.5 0,700.8 0,671.9 0,688.1 0,680.1 0,676.8 0,668.0 0,668.6 0,683.6 0,662.8 0,679.5 0,679.2 0,685.8 0,679.9 0,668.4 0,660.3 0,683.9 0,665.8 0,706.4 0,666.0 0,687.9 0,691.5 0,689.6 0,692.2 0,675.4 0,687.7 0,673.1 0,681.7 0,685.9 0,673.5 0,680.5 0,690.7 0,690.5 0,688.8 0,681.9 0,673.6 0,670.5 0,670.5 0,669.5 0,673.9 0,668.2 0,668.1 0,688.9 0,690.4 0,676.1 0,675.9 0,680.0 0,677.7 0,680.6 0,671.8 0,695.9 0,668.7 0,686.4 0,670.9 0,675.0 0,679.0 0,679.3 0,673.8 0,678.5 0,689.8 0,672.9 0,696.0 0,682.1 0,663.7 0,697.3 0,684.8 0,685.4 0,682.7 0,683.0 0,693.6 0,688.8 0,691.5 0,698.3 0,681.2 0,673.6 0,674.7 0,673.7 0,688.1 0,703.7 0,671.8 0,685.5 0,673.6 0,674.9 0,691.5 0,686.3 0,682.0 0,659.5 0,669.7 0,680.4 0,679.0 0,684.5 0,680.8 0,676.1 0,684.5 0,685.1 0,680.7 0,676.8 0,680.7 0,692.0 0,690.4 0,678.7 0,680.0 0,679.7 0,689.2 0,681.9 0,686.0 0,668.6 0,666.6 0,676.5 0,692.8 0,678.7 0,663.5 0,682.5 0,682.1 0,687.5 0,694.7 0,682.2 0,684.8 0,692.9 0,660.0 0,692.2 0,672.3 0,659.6 0,703.0 0,692.9 0,681.0 0,678.0 0,685.5 0,686.7 0,669.7 0,695.2 0,678.2 0,689.0 0,671.0 0,686.6 0,680.4 0,679.7 0,677.1 0,699.3 0,690.6 0,682.8 0,684.7 0,697.0 0,698.2 0,674.8 0,696.0 0,673.2 0,659.2 0,683.8 0,690.4 0,687.4 0,680.8 0,682.8 0,678.4 0,673.0 0,667.4 0,681.8 0,679.2 0,674.8 0,682.6 0,681.5 0,671.8 0,687.6 0,691.0 0,669.6 0,688.9 0,686.6 0,665.2 0,680.9 0,683.2 0,668.9 0,681.9 0,681.0 0,668.6 0,686.8 0,681.9 0,695.8 0,685.9 0,681.7 0,683.6 0,699.0 0,669.6 0,688.0 0,657.4 0,678.7 0,689.2 0,689.5 0,690.9 0,685.0 0,679.2 0,687.5 0,696.7 0,676.7 0,694.8 0,677.1 0,696.9 0,679.0 0,682.2 0,671.8 0,689.5 0,680.4 0,668.5 0,685.1 0,683.5 0,672.3 0,674.7 0,700.2 0,694.4 0,676.5 0,687.0 0,661.7 0,696.3 0,680.6 0,670.5 0,663.5 0,706.0 0,666.4 0,668.6 0,689.0 0,687.1 0,684.0 0,701.1 0,683.2 0,686.5 0,699.5 0,675.3 0,666.2 0,676.6 0,658.7 0,685.1 0,684.7 0,692.6 0,694.1 0,673.5 0,705.3 0,662.0 0,693.1 0,656.3 0,677.9 0,688.4 0,673.9 0,690.3 0,659.4 0,658.9 0,668.9 0,678.3 0,683.6 0,672.7 0,685.8 0,683.7 0,672.8 0,695.3 0,674.0 0,664.6 0,677.1 0,682.7 0,679.4 0,667.4 0,685.3 0,695.0 0,684.0 0,666.2 0,682.5 0,677.6 0,689.0 0,675.2 0,678.9 0,684.3 0,681.7 0,684.0 0,672.1 0,678.7 0,682.6 0,672.1 0,691.9 0,672.9 0,685.4 0,693.7 0,665.8 0,688.5 0,653.5 0,709.8"/>
<polyline class="sc" transform="translate(871.08 0)" points="0,688.2 0,684.3 0,681.3 0,678.4 0,679.4 0,696.4 0,687.4 0,679.2 0,702.9 0,680.2 0,681.2 0,681.5 0,659.5 0,669.2 0,700.0 0,669.6 0,686.7 0,689.0 0,685.3 0,663.8 0,679.3 0,681.8 0,688.1 0,682.1 0,665.6 0,691.9 0,690.7 0,679.2 0,698.0 0,678.5 0,677.1 0,688.5 0,682.9 0,685.1 0,664.1 0,669.2 0,690.8 0,687.0 0,680.9 0,673.7 0,665.9 0,689.8 0,682.6 0,693.7 0,679.2 0,694.8 0,686.1 0,710.0 0,683.9 0,702.3 0,673.1 0,673.8 0,681.8 0,666.3 0,705.0 0,671.6 0,673.3 0,678.8 0,673.2 0,701.2 0,666.7 0,679.7 0,686.4 0,696.9 0,695.7 0,678.1 0,680.6 0,681.1 0,701.4 0,670.2 0,669.4 0,689.4 0,703.8 0,671.1 0,674.4 0,704.3 0,673.8 0,674.9 0,686.4 0,689.8 0,676.3 0,679.2 0,694.7 0,659.0 0,667.7 0,683.9 0,675.1 0,681.1 0,665.7 0,693.7 0,670.2 0,674.6 0,684.9 0,699.4 0,676.0 0,664.9 0,691.6 0,699.2 0,672.8 0,689.4 0,689.8 0,677.6 0,690.6 0,670.8 0,665.7 0,678.6 0,685.1 0,674.6 0,693.9 0,682.5 0,680.5 0,694.6 0,680.1 0,675.4 0,673.8 0,677.7 0,685.9 0,673.1 0,679.9 0,688.3 0,679.0 0,677.7 0,687.0 0,673.1 0,699.7 0,681.5 0,669.2 0,695.4 0,680.2 0,675.2 0,709.6 0,697.5 0,679.5 0,695.7 0,679.3 0,670.1 0,678.9 0,669.9 0,681.4 0,674.0 0,684.2 0,672.0 0,674.7 0,693.6 0,678.8 0,696.9 0,683.3 0,682.1 0,676.6 0,687.1 0,694.2 0,677.5 0,690.7 0,666.1 0,678.4 0,669.5 0,691.7 0,673.4 0,704.2 0,702.6 0,673.5 0,701.4 0,690.1 0,699.8 0,675.7 0,671.5 0,668.4 0,663.8 0,674.5 0,674.6 0,670.3 0,695.6 0,656.1 0,653.3 0,673.8 0,670.8 0,675.2 0,666.4 0,680.0 0,679.0 0,683.8 0,680.4 0,692.2 0,663.1 0,681.6 0,670.7 0,682.4 0,695.9 0,708.9 0,673.4 0,679.4 0,682.4 0,680.5 0,681.9 0,685.8 0,692.0 0,680.6 0,675.6 0,675.2 0,659.1 0,688.2 0,674.9 0,672.8 0,683.6 0,676.2 0,672.9 0,683.2 0,682.3 0,661.2 0,684.6 0,699.0 0,669.2 0,667.1 0,679.8 0,694.7 0,660.4 0,671.2 0,676.6 0,699.8 0,684.9 0,698.2 0,674.8 0,690.4 0,694.5 0,680.6 0,690.7 0,701.9 0,698.6 0,685.6 0,674.1 0,666.6 0,681.5 0,692.3 0,688.9 0,686.5 0,668.5 0,680.6 0,670.5 0,680.3 0,667.8 0,681.1 0,693.8 0,683.3 0,672.0 0,698.0 0,662.8 0,669.8 0,691.8 0,674.3 0,689.2 0,689.1 0,680.3 0,688.7 0,705.9 0,666.2 0,665.2 0,693.4 0,672.1 0,661.0 0,697.3 0,694.3 0,683.4 0,653.5 0,675.9 0,691.2 0,701.3 0,705.7 0,706.7 0,691.0 0,679.5 0,679.8 0,699.9 0,695.1 0,681.8 0,694.7 0,709.3 0,680.3 0,674.3 0,669.4 0,675.2 0,659.7 0,688.8 0,673.4 0,676.9 0,695.7 0,691.7 0,690.5 0,665.4 0,673.0 0,669.4 0,688.7 0,658.0 0,686.0 0,698.3 0,686.7 0,657.0 0,682.5 0,675.1 0,687.8 0,683.8 0,671.4 0,671.2 0,696.3 0,665.7 0,696.2 0,667.1 0,675.3 0,694.9 0,670.3 0,677.2 0,679.2 0,707.1 0,669.8 0,685.4 0,670.5 0,672.2 0,687.0 0,693.0 0,688.4 0,688.2 0,689.0 0,704.1 0,678.9 0,710.4 0,687.2 0,655.2 0,697.5 0,691.7 0,695.3 0,683.2 0,679.8 0,673.6 0,646.2 0,649.0 0,651.2 0,713.5 0,716.0 0,718.1"/>
<polyline class="sc" transform="translate(922.51 0)" points="0,680.3 0,698.9 0,687.1 0,649.7 0,682.9 0,681.0 0,679.4 0,679.1 0,691.5 0,687.8 0,673.2 0,692.3 0,679.8 0,701.9 0,677.6 0,673.0 0,692.4 0,687.9 0,672.2 0,686.8 0,665.8 0,654.7 0,672.0 0,678.2 0,682.9 0,686.1 0,688.8 0,665.3 0,675.8 0,670.6 0,665.0 0,679.0 0,679.3 0,658.7 0,687.9 0,705.7 0,679.8 0,681.7 0,665.5 0,666.2 0,681.0 0,690.1 0,683.2 0,692.1 0,681.8 0,689.6 0,693.0 0,683.3 0,681.4 0,698.2 0,680.3 0,681.1 0,688.1 0,684.4 0,673.3 0,668.6 0,677.6 0,660.8 0,697.9 0,676.3 0,693.4 0,666.8 0,667.1 0,703.5 0,687.2 0,685.1 0,678.4 0,667.6 0,669.2 0,680.1 0,694.3 0,689.7 0,676.6 0,711.4 0,682.0 0,687.7 0,692.6 0,684.5 0,678.3 0,686.4 0,674.6 0,674.7 0,664.8 0,672.2 0,670.4 0,674.2 0,667.9 0,672.3 0,699.1 0,671.2 0,670.4 0,689.0 0,674.2 0,674.5 0,662.9 0,689.7 0,678.9 0,686.8 0,669.1 0,674.5 0,673.0 0,650.0 0,709.4 0,667.9 0,694.2 0,661.8 0,683.9 0,676.9 0,693.4 0,669.3 0,688.3 0,691.9 0,689.7 0,683.7 0,674.2 0,690.4 0,686.9 0,671.1 0,672.5 0,699.7 0,674.5 0,705.6 0,676.3 0,684.2 0,687.9 0,689.1 0,687.3 0,695.4 0,654.2 0,690.7 0,674.0 0,678.8 0,688.1 0,674.3 0,681.4 0,679.9 0,653.0 0,678.4 0,694.8 0,687.7 0,674.3 0,692.3 0,680.9 0,690.0 0,677.0 0,691.8 0,674.1 0,681.3 0,689.2 0,693.7 0,685.9 0,649.3 0,667.9 0,676.0 0,709.1 0,675.7 0,673.9 0,665.2 0,693.1 0,691.0 0,691.7 0,695.6 0,676.2 0,696.6 0,669.1 0,667.3 0,693.3 0,681.7 0,658.7 0,695.6 0,682.7 0,676.5 0,668.9 0,684.2 0,692.4 0,675.4 0,694.5 0,697.9 0,661.0 0,685.4 0,698.0 0,682.6 0,690.0 0,675.8 0,686.3 0,707.8 0,693.3 0,694.1 0,682.1 0,679.5 0,684.8 0,670.5 0,681.4 0,697.3 0,695.9 0,676.8 0,702.0 0,673.1 0,681.2 0,657.8 0,681.3 0,674.0 0,684.7 0,687.9 0,685.9 0,691.8 0,686.4 0,691.4 0,683.2 0,665.0 0,694.8 0,685.7 0,672.4 0,695.4 0,697.6 0,688.1 0,683.6 0,694.8 0,689.6 0,695.2 0,690.2 0,683.1 0,687.2 0,681.7 0,678.3 0,683.0 0,658.5 0,673.1 0,696.9 0,670.8 0,670.0 0,667.5 0,700.2 0,653.8 0,693.3 0,698.1 0,691.6 0,677.0 0,670.3 0,659.7 0,700.7 0,686.5 0,688.4 0,686.7 0,701.8 0,686.5 0,688.0 0,678.2 0,709.3 0,661.3 0,705.5 0,709.8 0,663.1 0,690.8 0,688.0 0,697.3 0,669.9 0,676.0 0,674.8 0,671.7 0,686.0 0,706.5 0,686.0 0,672.9 0,687.6 0,697.0 0,684.5 0,677.7 0,666.5 0,693.7 0,659.7 0,674.1 0,667.7 0,663.0 0,691.6 0,698.5 0,696.2 0,669.7 0,670.5 0,692.0 0,657.9 0,695.7 0,666.0 0,680.9 0,679.6 0,679.9 0,684.5 0,696.6 0,678.7 0,659.5 0,677.3 0,676.1 0,670.2 0,679.2 0,701.0 0,673.9 0,695.0 0,665.7 0,680.8 0,677.5 0,677.8 0,664.4 0,678.0 0,699.2 0,686.6 0,674.8 0,683.9 0,696.9 0,652.7 0,679.3 0,679.6 0,702.5 0,677.4 0,677.0 0,694.3 0,687.9 0,675.6 0,678.1 0,679.8 0,700.6 0,702.9 0,675.6 0,667.6 0,690.5 0,678.4 0,690.9 0,675.1 0,694.1 0,687.8 0,681.2 0,670.7 0,690.7 0,677.0 0,678.0 0,639.1 0,642.0 0,645.0 0,647.3 0,715.0"/>
<polyline class="sc" transform="translate(973.94 0)" points="0,700.5 0,683.2 0,658.9 0,700.6 0,661.7 0,657.4 0,690.5 0,695.1 0,695.6 0,688.4 0,675.7 0,657.7 0,691.3 0,689.4 0,685.1 0,670.5 0,661.8 0,677.3 0,694.7 0,679.0 0,677.7 0,696.6 0,667.1 0,672.5 0,686.8 0,686.0 0,690.8 0,711.2 0,647.1 0,666.9 0,692.2 0,675.8 0,679.6 0,716.4 0,694.4 0,669.4 0,650.6 0,653.9 0,681.9 0,700.9 0,652.9 0,676.0 0,698.6 0,659.5 0,658.1 0,680.3 0,698.2 0,698.0 0,693.9 0,710.8 0,689.0 0,678.0 0,673.1 0,698.8 0,661.2 0,684.0 0,695.7 0,679.7 0,668.3 0,669.3 0,685.5 0,662.6 0,676.7 0,668.6 0,676.6 0,666.3 0,659.1 0,671.0 0,683.1 0,690.4 0,685.8 0,714.3 0,690.2 0,666.5 0,661.4 0,690.1 0,690.5 0,684.4 0,658.6 0,689.9 0,691.8 0,681.0 0,681.7 0,696.9 0,678.6 0,681.6 0,684.1 0,707.7 0,682.8 0,660.6 0,681.9 0,660.9 0,681.9 0,677.9 0,683.6 0,677.1 0,657.8 0,670.1 0,688.2 0,688.9 0,656.4 0,690.4 0,679.6 0,672.3 0,659.3 0,687.5 0,673.6 0,690.8 0,678.9 0,689.4 0,675.0 0,696.5 0,687.1 0,681.0 0,683.1 0,674.9 0,698.0 0,688.1 0,696.7 0,652.2 0,667.1 0,666.1 0,663.7 0,677.2 0,689.9 0,670.2 0,681.1 0,680.6 0,700.2 0,682.4 0,685.8 0,693.0 0,694.4 0,694.7 0,690.2 0,656.9 0,701.4 0,717.6 0,693.2 0,678.4 0,682.8 0,713.4 0,686.4 0,699.9 0,675.1 0,697.2 0,690.6 0,683.6 0,690.7 0,709.9 0,653.5 0,704.2 0,679.7 0,670.7 0,679.7 0,668.9 0,656.6 0,686.5 0,691.7 0,703.1 0,698.4 0,685.4 0,665.1 0,669.5 0,671.9 0,678.2 0,662.0 0,689.0 0,714.1 0,693.3 0,666.6 0,684.5 0,714.4 0,679.5 0,693.3 0,676.1 0,689.4 0,689.7 0,678.5 0,682.6 0,676.8 0,708.5 0,697.0 0,677.5 0,677.3 0,682.7 0,696.8 0,654.4 0,664.5 0,660.0 0,679.5 0,674.6 0,712.7 0,644.3 0,692.4 0,646.1 0,696.0 0,697.6 0,643.2 0,675.7 0,705.8 0,695.3 0,658.1 0,665.5 0,662.8 0,643.8 0,678.0 0,706.5 0,683.5 0,685.8 0,694.6 0,679.4 0,687.3 0,664.5 0,695.0 0,702.7 0,667.4 0,680.5 0,679.5 0,691.3 0,699.0 0,681.1 0,677.5 0,670.6 0,693.1 0,667.5 0,707.8 0,699.3 0,688.3 0,702.9 0,644.1 0,656.2 0,677.3 0,686.4 0,658.6 0,694.4 0,707.7 0,691.9 0,674.8 0,657.0 0,651.6 0,676.8 0,695.9 0,680.7 0,672.7 0,652.8 0,681.3 0,684.0 0,710.8 0,674.0 0,679.1 0,683.2 0,676.3 0,685.9 0,688.2 0,709.9 0,677.5 0,658.8 0,714.8 0,682.2 0,689.9 0,661.9 0,675.5 0,667.9 0,680.5 0,645.9 0,668.5 0,717.0 0,691.8 0,667.0 0,691.3 0,660.0 0,651.5 0,660.4 0,686.6 0,713.3 0,706.5 0,697.2 0,678.4 0,670.6 0,641.4 0,685.0 0,674.9 0,674.7 0,688.0 0,680.1 0,718.7 0,667.8 0,676.8 0,671.3 0,699.8 0,667.8 0,680.8 0,698.4 0,700.2 0,684.8 0,672.7 0,704.4 0,692.6 0,704.5 0,672.6 0,687.2 0,688.2 0,681.0 0,664.6 0,704.9 0,679.5 0,686.6 0,669.6 0,661.7 0,685.2 0,694.6 0,689.6 0,686.2 0,702.2 0,665.8 0,670.5 0,699.3 0,651.4 0,676.9 0,664.2 0,680.1 0,655.1 0,678.4 0,678.5 0,665.5 0,668.1 0,661.8 0,680.2 0,672.2 0,685.8 0,661.1 0,700.9 0,711.7 0,695.2 0,710.0 0,649.6 0,684.2 0,632.5 0,638.6 0,727.2"/>
<g shape-rendering="crispEdges" fill="none" stroke-width="1">
<path d="M613.5 679.5V675.5M613.5 687.5V682.5" stroke="#000" stroke-dasharray="10.4 5.6"/>
<path d="M608 675.5H619M608 687.5H619" stroke="#000"/>
<rect x="603.5" y="679.5" width="21" height="3" stroke="#0000ff"/>
<path d="M603 680.5H625" stroke="#ff0000"/>
</g>
<g shape-rendering="crispEdges" fill="none" stroke-width="1">
<path d="M665.5 678.5V669.5M665.5 692.5V684.5" stroke="#000" stroke-dasharray="10.4 5.6"/>
<path d="M660 669.5H671M660 692.5H671" stroke="#000"/>
<rect x="654.5" y="678.5" width="21" height="6" stroke="#0000ff"/>
<path d="M654 681.5H676" stroke="#ff0000"/>
</g>
<g shape-rendering="crispEdges" fill="none" stroke-width="1">
<path d="M716.5 677.5V666.5M716.5 698.5V686.5" stroke="#000" stroke-dasharray="10.4 5.6"/>
<path d="M711 666.5H722M711 698.5H722" stroke="#000"/>
<rect x="706.5" y="677.5" width="20" height="9" stroke="#0000ff"/>
<path d="M706 682.5H727" stroke="#ff0000"/>
</g>
<g shape-rendering="crispEdges" fill="none" stroke-width="1">
<path d="M768.5 675.5V659.5M768.5 702.5V687.5" stroke="#000" stroke-dasharray="10.4 5.6"/>
<path d="M762 659.5H774M762 702.5H774" stroke="#000"/>
<rect x="757.5" y="675.5" width="21" height="12" stroke="#0000ff"/>
<path d="M757 680.5H779" stroke="#ff0000"/>
</g>
<g shape-rendering="crispEdges" fill="none" stroke-width="1">
<path d="M819.5 674.5V655.5M819.5 706.5V687.5" stroke="#000" stroke-dasharray="10.4 5.6"/>
<path d="M814 655.5H825M814 706.5H825" stroke="#000"/>
<rect x="809.5" y="674.5" width="20" height="13" stroke="#0000ff"/>
<path d="M809 681.5H830" stroke="#ff0000"/>
</g>
<g shape-rendering="crispEdges" fill="none" stroke-width="1">
<path d="M870.5 674.5V653.5M870.5 710.5V689.5" stroke="#000" stroke-dasharray="10.4 5.6"/>
<path d="M865 653.5H877M865 710.5H877" stroke="#000"/>
<rect x="860.5" y="674.5" width="21" height="15" stroke="#0000ff"/>
<path d="M860 681.5H882" stroke="#ff0000"/>
</g>
<g shape-rendering="crispEdges" fill="none" stroke-width="1">
<path d="M922.5 673.5V649.5M922.5 711.5V689.5" stroke="#000" stroke-dasharray="10.4 5.6"/>
<path d="M917 649.5H928M917 711.5H928" stroke="#000"/>
<rect x="912.5" y="673.5" width="20" height="16" stroke="#0000ff"/>
<path d="M912 681.5H933" stroke="#ff0000"/>
</g>
<g shape-rendering="crispEdges" fill="none" stroke-width="1">
<path d="M973.5 670.5V641.5M973.5 718.5V691.5" stroke="#000" stroke-dasharray="10.4 5.6"/>
<path d="M968 641.5H979M968 718.5H979" stroke="#000"/>
<rect x="963.5" y="670.5" width="21" height="21" stroke="#0000ff"/>
<path d="M963 680.5H985" stroke="#ff0000"/>
</g>
<path d="M588.5 681.5H999.5" stroke="#000" stroke-width="1" stroke-dasharray="9 2 3 2" stroke-dashoffset="1.4" fill="none" shape-rendering="crispEdges"/>
<path d="M613.5 751v-5M613.5 429v5M665.5 751v-5M665.5 429v5M716.5 751v-5M716.5 429v5M768.5 751v-5M768.5 429v5M819.5 751v-5M819.5 429v5M870.5 751v-5M870.5 429v5M922.5 751v-5M922.5 429v5M973.5 751v-5M973.5 429v5M588 734.5h5M1000 734.5h-5M588 692.5h5M1000 692.5h-5M588 651.5h5M1000 651.5h-5M588 610.5h5M1000 610.5h-5M588 569.5h5M1000 569.5h-5M588 528.5h5M1000 528.5h-5M588 487.5h5M1000 487.5h-5M588 446.5h5M1000 446.5h-5" stroke="#262626" stroke-width="1" fill="none" shape-rendering="crispEdges"/>
<rect x="588.5" y="429.5" width="411" height="321" stroke="#262626" stroke-width="1" fill="none" shape-rendering="crispEdges"/>
<g font-size="15.6" fill="#262626" stroke="#262626" stroke-width="0.25">
<text x="613.28" y="770.7" text-anchor="middle">0.1</text>
<text x="664.71" y="770.7" text-anchor="middle">0.2</text>
<text x="716.14" y="770.7" text-anchor="middle">0.3</text>
<text x="767.57" y="770.7" text-anchor="middle">0.4</text>
<text x="819" y="770.7" text-anchor="middle">0.5</text>
<text x="870.43" y="770.7" text-anchor="middle">0.6</text>
<text x="921.86" y="770.7" text-anchor="middle">0.7</text>
<text x="973.29" y="770.7" text-anchor="middle">0.8</text>
<text x="583" y="739.34" text-anchor="end">2.5</text>
<text x="583" y="698.18" text-anchor="end">3</text>
<text x="583" y="657.03" text-anchor="end">3.5</text>
<text x="583" y="615.88" text-anchor="end">4</text>
<text x="583" y="574.72" text-anchor="end">4.5</text>
<text x="583" y="533.57" text-anchor="end">5</text>
<text x="583" y="492.42" text-anchor="end">5.5</text>
<text x="583" y="451.26" text-anchor="end">6</text>
</g>
<text transform="translate(741.2 791.4) scale(1 0.98)" font-size="16.6" fill="#262626" stroke="#262626" stroke-width="0.2" textLength="93.3">std/med of v</text>
<text x="839.5" y="799.7" font-size="14" fill="#262626">c</text>
<g stroke="#000" stroke-width="0.3">
<text x="608.8" y="457.7" font-size="17.6" fill="#000">v</text>
<text x="617.7" y="466.6" font-size="14" fill="#000">c</text>
<text x="630" y="457.7" font-size="17.6" fill="#000" textLength="123.2">from log-normal</text>
</g>
<g transform="translate(547.8 691.1) rotate(-90)" fill="#262626" stroke="#262626" stroke-width="0.25">
<text x="0" y="0" font-size="19" textLength="144" lengthAdjust="spacingAndGlyphs">sample medians, v</text>
<text x="144.6" y="-7.6" font-size="15.2" textLength="57.8" lengthAdjust="spacingAndGlyphs">(m,samp)</text>
<text x="144.8" y="7.9" font-size="14">c</text>
</g>
</g>
</svg></body></html>
